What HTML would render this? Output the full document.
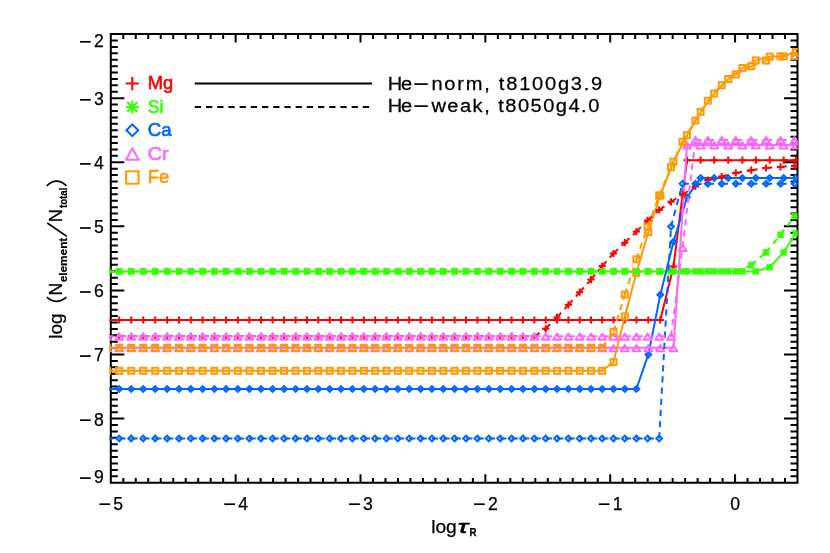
<!DOCTYPE html>
<html><head><meta charset="utf-8"><title>Abundance stratification</title>
<style>html,body{margin:0;padding:0;background:#fff}body{width:830px;height:553px;overflow:hidden;font-family:"Liberation Sans",sans-serif}</style></head>
<body>
<svg width="830" height="553" viewBox="0 0 830 553" style="display:block;will-change:transform;font-family:'Liberation Sans',sans-serif">
<style>text{stroke:#000;stroke-width:0.25px}</style>
<rect width="830" height="553" fill="#fff"/>
<defs><clipPath id="box"><rect x="109.5" y="34.1" width="688.3" height="448.59999999999997"/></clipPath></defs>
<path d="M110.8 34.1H797.5V482.7H110.8ZM110.80 482.7v-7.5M110.80 34.1v7.5M123.29 482.7v-3.8M123.29 34.1v3.8M135.77 482.7v-3.8M135.77 34.1v3.8M148.26 482.7v-3.8M148.26 34.1v3.8M160.74 482.7v-3.8M160.74 34.1v3.8M173.23 482.7v-3.8M173.23 34.1v3.8M185.71 482.7v-3.8M185.71 34.1v3.8M198.20 482.7v-3.8M198.20 34.1v3.8M210.68 482.7v-3.8M210.68 34.1v3.8M223.17 482.7v-3.8M223.17 34.1v3.8M235.65 482.7v-7.5M235.65 34.1v7.5M248.14 482.7v-3.8M248.14 34.1v3.8M260.63 482.7v-3.8M260.63 34.1v3.8M273.11 482.7v-3.8M273.11 34.1v3.8M285.60 482.7v-3.8M285.60 34.1v3.8M298.08 482.7v-3.8M298.08 34.1v3.8M310.57 482.7v-3.8M310.57 34.1v3.8M323.05 482.7v-3.8M323.05 34.1v3.8M335.54 482.7v-3.8M335.54 34.1v3.8M348.02 482.7v-3.8M348.02 34.1v3.8M360.51 482.7v-7.5M360.51 34.1v7.5M372.99 482.7v-3.8M372.99 34.1v3.8M385.48 482.7v-3.8M385.48 34.1v3.8M397.97 482.7v-3.8M397.97 34.1v3.8M410.45 482.7v-3.8M410.45 34.1v3.8M422.94 482.7v-3.8M422.94 34.1v3.8M435.42 482.7v-3.8M435.42 34.1v3.8M447.91 482.7v-3.8M447.91 34.1v3.8M460.39 482.7v-3.8M460.39 34.1v3.8M472.88 482.7v-3.8M472.88 34.1v3.8M485.36 482.7v-7.5M485.36 34.1v7.5M497.85 482.7v-3.8M497.85 34.1v3.8M510.33 482.7v-3.8M510.33 34.1v3.8M522.82 482.7v-3.8M522.82 34.1v3.8M535.31 482.7v-3.8M535.31 34.1v3.8M547.79 482.7v-3.8M547.79 34.1v3.8M560.28 482.7v-3.8M560.28 34.1v3.8M572.76 482.7v-3.8M572.76 34.1v3.8M585.25 482.7v-3.8M585.25 34.1v3.8M597.73 482.7v-3.8M597.73 34.1v3.8M610.22 482.7v-7.5M610.22 34.1v7.5M622.70 482.7v-3.8M622.70 34.1v3.8M635.19 482.7v-3.8M635.19 34.1v3.8M647.67 482.7v-3.8M647.67 34.1v3.8M660.16 482.7v-3.8M660.16 34.1v3.8M672.65 482.7v-3.8M672.65 34.1v3.8M685.13 482.7v-3.8M685.13 34.1v3.8M697.62 482.7v-3.8M697.62 34.1v3.8M710.10 482.7v-3.8M710.10 34.1v3.8M722.59 482.7v-3.8M722.59 34.1v3.8M735.07 482.7v-7.5M735.07 34.1v7.5M747.56 482.7v-3.8M747.56 34.1v3.8M760.04 482.7v-3.8M760.04 34.1v3.8M772.53 482.7v-3.8M772.53 34.1v3.8M785.01 482.7v-3.8M785.01 34.1v3.8M797.50 482.7v-3.8M797.50 34.1v3.8M110.8 34.10h12.5M797.5 34.10h-12.5M110.8 40.51h6.0M797.5 40.51h-6.0M110.8 46.92h6.0M797.5 46.92h-6.0M110.8 53.33h6.0M797.5 53.33h-6.0M110.8 59.73h6.0M797.5 59.73h-6.0M110.8 66.14h6.0M797.5 66.14h-6.0M110.8 72.55h6.0M797.5 72.55h-6.0M110.8 78.96h6.0M797.5 78.96h-6.0M110.8 85.37h6.0M797.5 85.37h-6.0M110.8 91.78h6.0M797.5 91.78h-6.0M110.8 98.19h12.5M797.5 98.19h-12.5M110.8 104.59h6.0M797.5 104.59h-6.0M110.8 111.00h6.0M797.5 111.00h-6.0M110.8 117.41h6.0M797.5 117.41h-6.0M110.8 123.82h6.0M797.5 123.82h-6.0M110.8 130.23h6.0M797.5 130.23h-6.0M110.8 136.64h6.0M797.5 136.64h-6.0M110.8 143.05h6.0M797.5 143.05h-6.0M110.8 149.45h6.0M797.5 149.45h-6.0M110.8 155.86h6.0M797.5 155.86h-6.0M110.8 162.27h12.5M797.5 162.27h-12.5M110.8 168.68h6.0M797.5 168.68h-6.0M110.8 175.09h6.0M797.5 175.09h-6.0M110.8 181.50h6.0M797.5 181.50h-6.0M110.8 187.91h6.0M797.5 187.91h-6.0M110.8 194.31h6.0M797.5 194.31h-6.0M110.8 200.72h6.0M797.5 200.72h-6.0M110.8 207.13h6.0M797.5 207.13h-6.0M110.8 213.54h6.0M797.5 213.54h-6.0M110.8 219.95h6.0M797.5 219.95h-6.0M110.8 226.36h12.5M797.5 226.36h-12.5M110.8 232.77h6.0M797.5 232.77h-6.0M110.8 239.17h6.0M797.5 239.17h-6.0M110.8 245.58h6.0M797.5 245.58h-6.0M110.8 251.99h6.0M797.5 251.99h-6.0M110.8 258.40h6.0M797.5 258.40h-6.0M110.8 264.81h6.0M797.5 264.81h-6.0M110.8 271.22h6.0M797.5 271.22h-6.0M110.8 277.63h6.0M797.5 277.63h-6.0M110.8 284.03h6.0M797.5 284.03h-6.0M110.8 290.44h12.5M797.5 290.44h-12.5M110.8 296.85h6.0M797.5 296.85h-6.0M110.8 303.26h6.0M797.5 303.26h-6.0M110.8 309.67h6.0M797.5 309.67h-6.0M110.8 316.08h6.0M797.5 316.08h-6.0M110.8 322.49h6.0M797.5 322.49h-6.0M110.8 328.89h6.0M797.5 328.89h-6.0M110.8 335.30h6.0M797.5 335.30h-6.0M110.8 341.71h6.0M797.5 341.71h-6.0M110.8 348.12h6.0M797.5 348.12h-6.0M110.8 354.53h12.5M797.5 354.53h-12.5M110.8 360.94h6.0M797.5 360.94h-6.0M110.8 367.35h6.0M797.5 367.35h-6.0M110.8 373.75h6.0M797.5 373.75h-6.0M110.8 380.16h6.0M797.5 380.16h-6.0M110.8 386.57h6.0M797.5 386.57h-6.0M110.8 392.98h6.0M797.5 392.98h-6.0M110.8 399.39h6.0M797.5 399.39h-6.0M110.8 405.80h6.0M797.5 405.80h-6.0M110.8 412.21h6.0M797.5 412.21h-6.0M110.8 418.61h12.5M797.5 418.61h-12.5M110.8 425.02h6.0M797.5 425.02h-6.0M110.8 431.43h6.0M797.5 431.43h-6.0M110.8 437.84h6.0M797.5 437.84h-6.0M110.8 444.25h6.0M797.5 444.25h-6.0M110.8 450.66h6.0M797.5 450.66h-6.0M110.8 457.07h6.0M797.5 457.07h-6.0M110.8 463.47h6.0M797.5 463.47h-6.0M110.8 469.88h6.0M797.5 469.88h-6.0M110.8 476.29h6.0M797.5 476.29h-6.0M110.8 482.70h12.5M797.5 482.70h-12.5" stroke="#000" stroke-width="2" fill="none" stroke-linecap="square" stroke-linejoin="miter"/>
<g clip-path="url(#box)">
<path d="M94.8 320.0L107.1 320.0L119.2 320.0L131.2 320.0L143.2 320.0L155.2 320.0L167.1 320.0L179.0 320.0L190.8 320.0L202.6 320.0L214.4 320.0L226.1 320.0L237.8 320.0L249.4 320.0L261.0 320.0L272.6 320.0L284.1 320.0L295.6 320.0L307.0 320.0L318.3 320.0L329.7 320.0L341.0 320.0L352.4 320.0L363.8 320.0L375.1 320.0L386.5 320.0L397.8 320.0L409.2 320.0L420.6 320.0L431.9 320.0L443.3 320.0L454.6 320.0L466.0 320.0L477.4 320.0L488.8 320.0L500.2 320.0L511.6 320.0L523.0 320.0L534.4 320.0L545.7 320.0L557.0 320.0L568.4 320.0L579.7 320.0L591.0 320.0L602.2 320.0L613.5 320.0L624.8 320.0L636.4 320.0L648.3 320.0L660.3 320.0L673.5 266.5L687.0 160.2L700.6 160.2L714.2 160.2L728.2 160.2L742.4 160.2L755.8 160.2L769.7 160.2L783.7 160.2L795.8 160.2" stroke="#ff0000" stroke-width="2" fill="none" stroke-linejoin="round"/>
<path d="M103.5 320.0H110.7M107.1 316.4V323.6" stroke="#ff0000" stroke-width="2" fill="none"/>
<path d="M115.6 320.0H122.8M119.2 316.4V323.6" stroke="#ff0000" stroke-width="2" fill="none"/>
<path d="M127.6 320.0H134.8M131.2 316.4V323.6" stroke="#ff0000" stroke-width="2" fill="none"/>
<path d="M139.6 320.0H146.8M143.2 316.4V323.6" stroke="#ff0000" stroke-width="2" fill="none"/>
<path d="M151.6 320.0H158.8M155.2 316.4V323.6" stroke="#ff0000" stroke-width="2" fill="none"/>
<path d="M163.5 320.0H170.7M167.1 316.4V323.6" stroke="#ff0000" stroke-width="2" fill="none"/>
<path d="M175.4 320.0H182.6M179.0 316.4V323.6" stroke="#ff0000" stroke-width="2" fill="none"/>
<path d="M187.2 320.0H194.4M190.8 316.4V323.6" stroke="#ff0000" stroke-width="2" fill="none"/>
<path d="M199.0 320.0H206.2M202.6 316.4V323.6" stroke="#ff0000" stroke-width="2" fill="none"/>
<path d="M210.8 320.0H218.0M214.4 316.4V323.6" stroke="#ff0000" stroke-width="2" fill="none"/>
<path d="M222.5 320.0H229.7M226.1 316.4V323.6" stroke="#ff0000" stroke-width="2" fill="none"/>
<path d="M234.2 320.0H241.4M237.8 316.4V323.6" stroke="#ff0000" stroke-width="2" fill="none"/>
<path d="M245.8 320.0H253.0M249.4 316.4V323.6" stroke="#ff0000" stroke-width="2" fill="none"/>
<path d="M257.4 320.0H264.6M261.0 316.4V323.6" stroke="#ff0000" stroke-width="2" fill="none"/>
<path d="M269.0 320.0H276.2M272.6 316.4V323.6" stroke="#ff0000" stroke-width="2" fill="none"/>
<path d="M280.5 320.0H287.7M284.1 316.4V323.6" stroke="#ff0000" stroke-width="2" fill="none"/>
<path d="M292.0 320.0H299.2M295.6 316.4V323.6" stroke="#ff0000" stroke-width="2" fill="none"/>
<path d="M303.4 320.0H310.6M307.0 316.4V323.6" stroke="#ff0000" stroke-width="2" fill="none"/>
<path d="M314.7 320.0H321.9M318.3 316.4V323.6" stroke="#ff0000" stroke-width="2" fill="none"/>
<path d="M326.1 320.0H333.3M329.7 316.4V323.6" stroke="#ff0000" stroke-width="2" fill="none"/>
<path d="M337.4 320.0H344.6M341.0 316.4V323.6" stroke="#ff0000" stroke-width="2" fill="none"/>
<path d="M348.8 320.0H356.0M352.4 316.4V323.6" stroke="#ff0000" stroke-width="2" fill="none"/>
<path d="M360.2 320.0H367.4M363.8 316.4V323.6" stroke="#ff0000" stroke-width="2" fill="none"/>
<path d="M371.5 320.0H378.7M375.1 316.4V323.6" stroke="#ff0000" stroke-width="2" fill="none"/>
<path d="M382.9 320.0H390.1M386.5 316.4V323.6" stroke="#ff0000" stroke-width="2" fill="none"/>
<path d="M394.2 320.0H401.4M397.8 316.4V323.6" stroke="#ff0000" stroke-width="2" fill="none"/>
<path d="M405.6 320.0H412.8M409.2 316.4V323.6" stroke="#ff0000" stroke-width="2" fill="none"/>
<path d="M417.0 320.0H424.2M420.6 316.4V323.6" stroke="#ff0000" stroke-width="2" fill="none"/>
<path d="M428.3 320.0H435.5M431.9 316.4V323.6" stroke="#ff0000" stroke-width="2" fill="none"/>
<path d="M439.7 320.0H446.9M443.3 316.4V323.6" stroke="#ff0000" stroke-width="2" fill="none"/>
<path d="M451.0 320.0H458.2M454.6 316.4V323.6" stroke="#ff0000" stroke-width="2" fill="none"/>
<path d="M462.4 320.0H469.6M466.0 316.4V323.6" stroke="#ff0000" stroke-width="2" fill="none"/>
<path d="M473.8 320.0H481.0M477.4 316.4V323.6" stroke="#ff0000" stroke-width="2" fill="none"/>
<path d="M485.2 320.0H492.4M488.8 316.4V323.6" stroke="#ff0000" stroke-width="2" fill="none"/>
<path d="M496.6 320.0H503.8M500.2 316.4V323.6" stroke="#ff0000" stroke-width="2" fill="none"/>
<path d="M508.0 320.0H515.2M511.6 316.4V323.6" stroke="#ff0000" stroke-width="2" fill="none"/>
<path d="M519.4 320.0H526.6M523.0 316.4V323.6" stroke="#ff0000" stroke-width="2" fill="none"/>
<path d="M530.8 320.0H538.0M534.4 316.4V323.6" stroke="#ff0000" stroke-width="2" fill="none"/>
<path d="M542.1 320.0H549.3M545.7 316.4V323.6" stroke="#ff0000" stroke-width="2" fill="none"/>
<path d="M553.4 320.0H560.6M557.0 316.4V323.6" stroke="#ff0000" stroke-width="2" fill="none"/>
<path d="M564.8 320.0H572.0M568.4 316.4V323.6" stroke="#ff0000" stroke-width="2" fill="none"/>
<path d="M576.1 320.0H583.3M579.7 316.4V323.6" stroke="#ff0000" stroke-width="2" fill="none"/>
<path d="M587.4 320.0H594.6M591.0 316.4V323.6" stroke="#ff0000" stroke-width="2" fill="none"/>
<path d="M598.6 320.0H605.8M602.2 316.4V323.6" stroke="#ff0000" stroke-width="2" fill="none"/>
<path d="M609.9 320.0H617.1M613.5 316.4V323.6" stroke="#ff0000" stroke-width="2" fill="none"/>
<path d="M621.2 320.0H628.4M624.8 316.4V323.6" stroke="#ff0000" stroke-width="2" fill="none"/>
<path d="M632.8 320.0H640.0M636.4 316.4V323.6" stroke="#ff0000" stroke-width="2" fill="none"/>
<path d="M644.7 320.0H651.9M648.3 316.4V323.6" stroke="#ff0000" stroke-width="2" fill="none"/>
<path d="M656.7 320.0H663.9M660.3 316.4V323.6" stroke="#ff0000" stroke-width="2" fill="none"/>
<path d="M669.9 266.5H677.1M673.5 262.9V270.1" stroke="#ff0000" stroke-width="2" fill="none"/>
<path d="M683.4 160.2H690.6M687.0 156.6V163.8" stroke="#ff0000" stroke-width="2" fill="none"/>
<path d="M697.0 160.2H704.2M700.6 156.6V163.8" stroke="#ff0000" stroke-width="2" fill="none"/>
<path d="M710.6 160.2H717.8M714.2 156.6V163.8" stroke="#ff0000" stroke-width="2" fill="none"/>
<path d="M724.6 160.2H731.8M728.2 156.6V163.8" stroke="#ff0000" stroke-width="2" fill="none"/>
<path d="M738.8 160.2H746.0M742.4 156.6V163.8" stroke="#ff0000" stroke-width="2" fill="none"/>
<path d="M752.2 160.2H759.4M755.8 156.6V163.8" stroke="#ff0000" stroke-width="2" fill="none"/>
<path d="M766.1 160.2H773.3M769.7 156.6V163.8" stroke="#ff0000" stroke-width="2" fill="none"/>
<path d="M780.1 160.2H787.3M783.7 156.6V163.8" stroke="#ff0000" stroke-width="2" fill="none"/>
<path d="M792.2 160.2H799.4M795.8 156.6V163.8" stroke="#ff0000" stroke-width="2" fill="none"/>
<path d="M94.8 271.4L107.1 271.4L119.2 271.4L131.2 271.4L143.2 271.4L155.2 271.4L167.1 271.4L179.0 271.4L190.8 271.4L202.6 271.4L214.4 271.4L226.1 271.4L237.8 271.4L249.4 271.4L261.0 271.4L272.6 271.4L284.1 271.4L295.6 271.4L307.0 271.4L318.3 271.4L329.7 271.4L341.0 271.4L352.4 271.4L363.8 271.4L375.1 271.4L386.5 271.4L397.8 271.4L409.2 271.4L420.6 271.4L431.9 271.4L443.3 271.4L454.6 271.4L466.0 271.4L477.4 271.4L488.8 271.4L500.2 271.4L511.6 271.4L523.0 271.4L534.4 271.4L545.7 271.4L557.0 271.4L568.4 271.4L579.7 271.4L591.0 271.4L602.2 271.4L613.5 271.4L624.8 271.4L636.4 271.4L648.3 271.4L660.3 271.4L673.5 271.4L687.0 271.4L700.6 271.4L714.2 271.4L728.2 271.4L742.4 271.4L755.8 271.4L769.7 267.2L783.7 252.4L795.8 233.3" stroke="#33ff00" stroke-width="2" fill="none" stroke-linejoin="round"/>
<path d="M103.8 271.4H110.4M107.1 268.1V274.7M104.1 268.4L110.1 274.4M104.1 274.4L110.1 268.4" stroke="#33ff00" stroke-width="2" fill="none"/>
<path d="M115.9 271.4H122.5M119.2 268.1V274.7M116.2 268.4L122.2 274.4M116.2 274.4L122.2 268.4" stroke="#33ff00" stroke-width="2" fill="none"/>
<path d="M127.9 271.4H134.5M131.2 268.1V274.7M128.2 268.4L134.3 274.4M128.2 274.4L134.3 268.4" stroke="#33ff00" stroke-width="2" fill="none"/>
<path d="M139.9 271.4H146.5M143.2 268.1V274.7M140.2 268.4L146.3 274.4M140.2 274.4L146.3 268.4" stroke="#33ff00" stroke-width="2" fill="none"/>
<path d="M151.9 271.4H158.5M155.2 268.1V274.7M152.2 268.4L158.2 274.4M152.2 274.4L158.2 268.4" stroke="#33ff00" stroke-width="2" fill="none"/>
<path d="M163.8 271.4H170.4M167.1 268.1V274.7M164.1 268.4L170.2 274.4M164.1 274.4L170.2 268.4" stroke="#33ff00" stroke-width="2" fill="none"/>
<path d="M175.7 271.4H182.3M179.0 268.1V274.7M176.0 268.4L182.0 274.4M176.0 274.4L182.0 268.4" stroke="#33ff00" stroke-width="2" fill="none"/>
<path d="M187.5 271.4H194.1M190.8 268.1V274.7M187.8 268.4L193.9 274.4M187.8 274.4L193.9 268.4" stroke="#33ff00" stroke-width="2" fill="none"/>
<path d="M199.3 271.4H205.9M202.6 268.1V274.7M199.6 268.4L205.7 274.4M199.6 274.4L205.7 268.4" stroke="#33ff00" stroke-width="2" fill="none"/>
<path d="M211.1 271.4H217.7M214.4 268.1V274.7M211.4 268.4L217.4 274.4M211.4 274.4L217.4 268.4" stroke="#33ff00" stroke-width="2" fill="none"/>
<path d="M222.8 271.4H229.4M226.1 268.1V274.7M223.1 268.4L229.2 274.4M223.1 274.4L229.2 268.4" stroke="#33ff00" stroke-width="2" fill="none"/>
<path d="M234.5 271.4H241.1M237.8 268.1V274.7M234.8 268.4L240.8 274.4M234.8 274.4L240.8 268.4" stroke="#33ff00" stroke-width="2" fill="none"/>
<path d="M246.1 271.4H252.7M249.4 268.1V274.7M246.4 268.4L252.5 274.4M246.4 274.4L252.5 268.4" stroke="#33ff00" stroke-width="2" fill="none"/>
<path d="M257.7 271.4H264.3M261.0 268.1V274.7M258.0 268.4L264.1 274.4M258.0 274.4L264.1 268.4" stroke="#33ff00" stroke-width="2" fill="none"/>
<path d="M269.3 271.4H275.9M272.6 268.1V274.7M269.6 268.4L275.6 274.4M269.6 274.4L275.6 268.4" stroke="#33ff00" stroke-width="2" fill="none"/>
<path d="M280.8 271.4H287.4M284.1 268.1V274.7M281.1 268.4L287.2 274.4M281.1 274.4L287.2 268.4" stroke="#33ff00" stroke-width="2" fill="none"/>
<path d="M292.3 271.4H298.9M295.6 268.1V274.7M292.6 268.4L298.6 274.4M292.6 274.4L298.6 268.4" stroke="#33ff00" stroke-width="2" fill="none"/>
<path d="M303.7 271.4H310.3M307.0 268.1V274.7M303.9 268.4L310.0 274.4M303.9 274.4L310.0 268.4" stroke="#33ff00" stroke-width="2" fill="none"/>
<path d="M315.0 271.4H321.6M318.3 268.1V274.7M315.3 268.4L321.4 274.4M315.3 274.4L321.4 268.4" stroke="#33ff00" stroke-width="2" fill="none"/>
<path d="M326.4 271.4H333.0M329.7 268.1V274.7M326.6 268.4L332.7 274.4M326.6 274.4L332.7 268.4" stroke="#33ff00" stroke-width="2" fill="none"/>
<path d="M337.7 271.4H344.3M341.0 268.1V274.7M338.0 268.4L344.1 274.4M338.0 274.4L344.1 268.4" stroke="#33ff00" stroke-width="2" fill="none"/>
<path d="M349.1 271.4H355.7M352.4 268.1V274.7M349.4 268.4L355.4 274.4M349.4 274.4L355.4 268.4" stroke="#33ff00" stroke-width="2" fill="none"/>
<path d="M360.5 271.4H367.1M363.8 268.1V274.7M360.7 268.4L366.8 274.4M360.7 274.4L366.8 268.4" stroke="#33ff00" stroke-width="2" fill="none"/>
<path d="M371.8 271.4H378.4M375.1 268.1V274.7M372.1 268.4L378.2 274.4M372.1 274.4L378.2 268.4" stroke="#33ff00" stroke-width="2" fill="none"/>
<path d="M383.2 271.4H389.8M386.5 268.1V274.7M383.4 268.4L389.5 274.4M383.4 274.4L389.5 268.4" stroke="#33ff00" stroke-width="2" fill="none"/>
<path d="M394.5 271.4H401.1M397.8 268.1V274.7M394.8 268.4L400.9 274.4M394.8 274.4L400.9 268.4" stroke="#33ff00" stroke-width="2" fill="none"/>
<path d="M405.9 271.4H412.5M409.2 268.1V274.7M406.2 268.4L412.2 274.4M406.2 274.4L412.2 268.4" stroke="#33ff00" stroke-width="2" fill="none"/>
<path d="M417.3 271.4H423.9M420.6 268.1V274.7M417.5 268.4L423.6 274.4M417.5 274.4L423.6 268.4" stroke="#33ff00" stroke-width="2" fill="none"/>
<path d="M428.6 271.4H435.2M431.9 268.1V274.7M428.9 268.4L435.0 274.4M428.9 274.4L435.0 268.4" stroke="#33ff00" stroke-width="2" fill="none"/>
<path d="M440.0 271.4H446.6M443.3 268.1V274.7M440.2 268.4L446.3 274.4M440.2 274.4L446.3 268.4" stroke="#33ff00" stroke-width="2" fill="none"/>
<path d="M451.3 271.4H457.9M454.6 268.1V274.7M451.6 268.4L457.7 274.4M451.6 274.4L457.7 268.4" stroke="#33ff00" stroke-width="2" fill="none"/>
<path d="M462.7 271.4H469.3M466.0 268.1V274.7M463.0 268.4L469.0 274.4M463.0 274.4L469.0 268.4" stroke="#33ff00" stroke-width="2" fill="none"/>
<path d="M474.1 271.4H480.7M477.4 268.1V274.7M474.3 268.4L480.4 274.4M474.3 274.4L480.4 268.4" stroke="#33ff00" stroke-width="2" fill="none"/>
<path d="M485.5 271.4H492.1M488.8 268.1V274.7M485.7 268.4L491.8 274.4M485.7 274.4L491.8 268.4" stroke="#33ff00" stroke-width="2" fill="none"/>
<path d="M496.9 271.4H503.5M500.2 268.1V274.7M497.1 268.4L503.2 274.4M497.1 274.4L503.2 268.4" stroke="#33ff00" stroke-width="2" fill="none"/>
<path d="M508.3 271.4H514.9M511.6 268.1V274.7M508.5 268.4L514.6 274.4M508.5 274.4L514.6 268.4" stroke="#33ff00" stroke-width="2" fill="none"/>
<path d="M519.7 271.4H526.3M523.0 268.1V274.7M519.9 268.4L526.0 274.4M519.9 274.4L526.0 268.4" stroke="#33ff00" stroke-width="2" fill="none"/>
<path d="M531.1 271.4H537.7M534.4 268.1V274.7M531.3 268.4L537.4 274.4M531.3 274.4L537.4 268.4" stroke="#33ff00" stroke-width="2" fill="none"/>
<path d="M542.4 271.4H549.0M545.7 268.1V274.7M542.7 268.4L548.7 274.4M542.7 274.4L548.7 268.4" stroke="#33ff00" stroke-width="2" fill="none"/>
<path d="M553.7 271.4H560.3M557.0 268.1V274.7M554.0 268.4L560.0 274.4M554.0 274.4L560.0 268.4" stroke="#33ff00" stroke-width="2" fill="none"/>
<path d="M565.1 271.4H571.7M568.4 268.1V274.7M565.4 268.4L571.4 274.4M565.4 274.4L571.4 268.4" stroke="#33ff00" stroke-width="2" fill="none"/>
<path d="M576.4 271.4H583.0M579.7 268.1V274.7M576.7 268.4L582.7 274.4M576.7 274.4L582.7 268.4" stroke="#33ff00" stroke-width="2" fill="none"/>
<path d="M587.7 271.4H594.3M591.0 268.1V274.7M588.0 268.4L594.0 274.4M588.0 274.4L594.0 268.4" stroke="#33ff00" stroke-width="2" fill="none"/>
<path d="M598.9 271.4H605.5M602.2 268.1V274.7M599.2 268.4L605.2 274.4M599.2 274.4L605.2 268.4" stroke="#33ff00" stroke-width="2" fill="none"/>
<path d="M610.2 271.4H616.8M613.5 268.1V274.7M610.5 268.4L616.5 274.4M610.5 274.4L616.5 268.4" stroke="#33ff00" stroke-width="2" fill="none"/>
<path d="M621.5 271.4H628.1M624.8 268.1V274.7M621.8 268.4L627.8 274.4M621.8 274.4L627.8 268.4" stroke="#33ff00" stroke-width="2" fill="none"/>
<path d="M633.1 271.4H639.7M636.4 268.1V274.7M633.4 268.4L639.4 274.4M633.4 274.4L639.4 268.4" stroke="#33ff00" stroke-width="2" fill="none"/>
<path d="M645.0 271.4H651.6M648.3 268.1V274.7M645.3 268.4L651.3 274.4M645.3 274.4L651.3 268.4" stroke="#33ff00" stroke-width="2" fill="none"/>
<path d="M657.0 271.4H663.6M660.3 268.1V274.7M657.3 268.4L663.3 274.4M657.3 274.4L663.3 268.4" stroke="#33ff00" stroke-width="2" fill="none"/>
<path d="M670.2 271.4H676.8M673.5 268.1V274.7M670.5 268.4L676.5 274.4M670.5 274.4L676.5 268.4" stroke="#33ff00" stroke-width="2" fill="none"/>
<path d="M683.7 271.4H690.3M687.0 268.1V274.7M684.0 268.4L690.0 274.4M684.0 274.4L690.0 268.4" stroke="#33ff00" stroke-width="2" fill="none"/>
<path d="M697.3 271.4H703.9M700.6 268.1V274.7M697.6 268.4L703.6 274.4M697.6 274.4L703.6 268.4" stroke="#33ff00" stroke-width="2" fill="none"/>
<path d="M710.9 271.4H717.5M714.2 268.1V274.7M711.2 268.4L717.2 274.4M711.2 274.4L717.2 268.4" stroke="#33ff00" stroke-width="2" fill="none"/>
<path d="M724.9 271.4H731.5M728.2 268.1V274.7M725.2 268.4L731.2 274.4M725.2 274.4L731.2 268.4" stroke="#33ff00" stroke-width="2" fill="none"/>
<path d="M739.1 271.4H745.7M742.4 268.1V274.7M739.4 268.4L745.4 274.4M739.4 274.4L745.4 268.4" stroke="#33ff00" stroke-width="2" fill="none"/>
<path d="M752.5 271.4H759.1M755.8 268.1V274.7M752.8 268.4L758.8 274.4M752.8 274.4L758.8 268.4" stroke="#33ff00" stroke-width="2" fill="none"/>
<path d="M766.4 267.2H773.0M769.7 263.9V270.5M766.7 264.2L772.7 270.2M766.7 270.2L772.7 264.2" stroke="#33ff00" stroke-width="2" fill="none"/>
<path d="M780.4 252.4H787.0M783.7 249.1V255.7M780.7 249.4L786.7 255.4M780.7 255.4L786.7 249.4" stroke="#33ff00" stroke-width="2" fill="none"/>
<path d="M792.5 233.3H799.1M795.8 230.0V236.6M792.8 230.3L798.8 236.3M792.8 236.3L798.8 230.3" stroke="#33ff00" stroke-width="2" fill="none"/>
<path d="M94.8 389.0L107.1 389.0L119.2 389.0L131.2 389.0L143.2 389.0L155.2 389.0L167.1 389.0L179.0 389.0L190.8 389.0L202.6 389.0L214.4 389.0L226.1 389.0L237.8 389.0L249.4 389.0L261.0 389.0L272.6 389.0L284.1 389.0L295.6 389.0L307.0 389.0L318.3 389.0L329.7 389.0L341.0 389.0L352.4 389.0L363.8 389.0L375.1 389.0L386.5 389.0L397.8 389.0L409.2 389.0L420.6 389.0L431.9 389.0L443.3 389.0L454.6 389.0L466.0 389.0L477.4 389.0L488.8 389.0L500.2 389.0L511.6 389.0L523.0 389.0L534.4 389.0L545.7 389.0L557.0 389.0L568.4 389.0L579.7 389.0L591.0 389.0L602.2 389.0L613.5 389.0L624.8 389.0L636.4 389.0L648.3 354.6L660.3 294.8L673.5 241.8L687.0 197.3L700.6 178.0L714.2 178.0L728.2 178.0L742.4 178.0L755.8 178.0L769.7 178.0L783.7 178.0L795.8 178.0" stroke="#0066ff" stroke-width="2" fill="none" stroke-linejoin="round"/>
<path d="M104.2 389.0L107.1 386.1L110.0 389.0L107.1 391.9Z" stroke="#0066ff" stroke-width="2" fill="none" stroke-linejoin="miter"/>
<path d="M116.3 389.0L119.2 386.1L122.1 389.0L119.2 391.9Z" stroke="#0066ff" stroke-width="2" fill="none" stroke-linejoin="miter"/>
<path d="M128.3 389.0L131.2 386.1L134.1 389.0L131.2 391.9Z" stroke="#0066ff" stroke-width="2" fill="none" stroke-linejoin="miter"/>
<path d="M140.3 389.0L143.2 386.1L146.1 389.0L143.2 391.9Z" stroke="#0066ff" stroke-width="2" fill="none" stroke-linejoin="miter"/>
<path d="M152.3 389.0L155.2 386.1L158.1 389.0L155.2 391.9Z" stroke="#0066ff" stroke-width="2" fill="none" stroke-linejoin="miter"/>
<path d="M164.2 389.0L167.1 386.1L170.0 389.0L167.1 391.9Z" stroke="#0066ff" stroke-width="2" fill="none" stroke-linejoin="miter"/>
<path d="M176.1 389.0L179.0 386.1L181.9 389.0L179.0 391.9Z" stroke="#0066ff" stroke-width="2" fill="none" stroke-linejoin="miter"/>
<path d="M187.9 389.0L190.8 386.1L193.7 389.0L190.8 391.9Z" stroke="#0066ff" stroke-width="2" fill="none" stroke-linejoin="miter"/>
<path d="M199.7 389.0L202.6 386.1L205.5 389.0L202.6 391.9Z" stroke="#0066ff" stroke-width="2" fill="none" stroke-linejoin="miter"/>
<path d="M211.5 389.0L214.4 386.1L217.3 389.0L214.4 391.9Z" stroke="#0066ff" stroke-width="2" fill="none" stroke-linejoin="miter"/>
<path d="M223.2 389.0L226.1 386.1L229.0 389.0L226.1 391.9Z" stroke="#0066ff" stroke-width="2" fill="none" stroke-linejoin="miter"/>
<path d="M234.9 389.0L237.8 386.1L240.7 389.0L237.8 391.9Z" stroke="#0066ff" stroke-width="2" fill="none" stroke-linejoin="miter"/>
<path d="M246.5 389.0L249.4 386.1L252.3 389.0L249.4 391.9Z" stroke="#0066ff" stroke-width="2" fill="none" stroke-linejoin="miter"/>
<path d="M258.1 389.0L261.0 386.1L263.9 389.0L261.0 391.9Z" stroke="#0066ff" stroke-width="2" fill="none" stroke-linejoin="miter"/>
<path d="M269.7 389.0L272.6 386.1L275.5 389.0L272.6 391.9Z" stroke="#0066ff" stroke-width="2" fill="none" stroke-linejoin="miter"/>
<path d="M281.2 389.0L284.1 386.1L287.0 389.0L284.1 391.9Z" stroke="#0066ff" stroke-width="2" fill="none" stroke-linejoin="miter"/>
<path d="M292.7 389.0L295.6 386.1L298.5 389.0L295.6 391.9Z" stroke="#0066ff" stroke-width="2" fill="none" stroke-linejoin="miter"/>
<path d="M304.1 389.0L307.0 386.1L309.9 389.0L307.0 391.9Z" stroke="#0066ff" stroke-width="2" fill="none" stroke-linejoin="miter"/>
<path d="M315.4 389.0L318.3 386.1L321.2 389.0L318.3 391.9Z" stroke="#0066ff" stroke-width="2" fill="none" stroke-linejoin="miter"/>
<path d="M326.8 389.0L329.7 386.1L332.6 389.0L329.7 391.9Z" stroke="#0066ff" stroke-width="2" fill="none" stroke-linejoin="miter"/>
<path d="M338.1 389.0L341.0 386.1L343.9 389.0L341.0 391.9Z" stroke="#0066ff" stroke-width="2" fill="none" stroke-linejoin="miter"/>
<path d="M349.5 389.0L352.4 386.1L355.3 389.0L352.4 391.9Z" stroke="#0066ff" stroke-width="2" fill="none" stroke-linejoin="miter"/>
<path d="M360.9 389.0L363.8 386.1L366.7 389.0L363.8 391.9Z" stroke="#0066ff" stroke-width="2" fill="none" stroke-linejoin="miter"/>
<path d="M372.2 389.0L375.1 386.1L378.0 389.0L375.1 391.9Z" stroke="#0066ff" stroke-width="2" fill="none" stroke-linejoin="miter"/>
<path d="M383.6 389.0L386.5 386.1L389.4 389.0L386.5 391.9Z" stroke="#0066ff" stroke-width="2" fill="none" stroke-linejoin="miter"/>
<path d="M394.9 389.0L397.8 386.1L400.7 389.0L397.8 391.9Z" stroke="#0066ff" stroke-width="2" fill="none" stroke-linejoin="miter"/>
<path d="M406.3 389.0L409.2 386.1L412.1 389.0L409.2 391.9Z" stroke="#0066ff" stroke-width="2" fill="none" stroke-linejoin="miter"/>
<path d="M417.7 389.0L420.6 386.1L423.5 389.0L420.6 391.9Z" stroke="#0066ff" stroke-width="2" fill="none" stroke-linejoin="miter"/>
<path d="M429.0 389.0L431.9 386.1L434.8 389.0L431.9 391.9Z" stroke="#0066ff" stroke-width="2" fill="none" stroke-linejoin="miter"/>
<path d="M440.4 389.0L443.3 386.1L446.2 389.0L443.3 391.9Z" stroke="#0066ff" stroke-width="2" fill="none" stroke-linejoin="miter"/>
<path d="M451.7 389.0L454.6 386.1L457.5 389.0L454.6 391.9Z" stroke="#0066ff" stroke-width="2" fill="none" stroke-linejoin="miter"/>
<path d="M463.1 389.0L466.0 386.1L468.9 389.0L466.0 391.9Z" stroke="#0066ff" stroke-width="2" fill="none" stroke-linejoin="miter"/>
<path d="M474.5 389.0L477.4 386.1L480.3 389.0L477.4 391.9Z" stroke="#0066ff" stroke-width="2" fill="none" stroke-linejoin="miter"/>
<path d="M485.9 389.0L488.8 386.1L491.7 389.0L488.8 391.9Z" stroke="#0066ff" stroke-width="2" fill="none" stroke-linejoin="miter"/>
<path d="M497.3 389.0L500.2 386.1L503.1 389.0L500.2 391.9Z" stroke="#0066ff" stroke-width="2" fill="none" stroke-linejoin="miter"/>
<path d="M508.7 389.0L511.6 386.1L514.5 389.0L511.6 391.9Z" stroke="#0066ff" stroke-width="2" fill="none" stroke-linejoin="miter"/>
<path d="M520.1 389.0L523.0 386.1L525.9 389.0L523.0 391.9Z" stroke="#0066ff" stroke-width="2" fill="none" stroke-linejoin="miter"/>
<path d="M531.5 389.0L534.4 386.1L537.3 389.0L534.4 391.9Z" stroke="#0066ff" stroke-width="2" fill="none" stroke-linejoin="miter"/>
<path d="M542.8 389.0L545.7 386.1L548.6 389.0L545.7 391.9Z" stroke="#0066ff" stroke-width="2" fill="none" stroke-linejoin="miter"/>
<path d="M554.1 389.0L557.0 386.1L559.9 389.0L557.0 391.9Z" stroke="#0066ff" stroke-width="2" fill="none" stroke-linejoin="miter"/>
<path d="M565.5 389.0L568.4 386.1L571.3 389.0L568.4 391.9Z" stroke="#0066ff" stroke-width="2" fill="none" stroke-linejoin="miter"/>
<path d="M576.8 389.0L579.7 386.1L582.6 389.0L579.7 391.9Z" stroke="#0066ff" stroke-width="2" fill="none" stroke-linejoin="miter"/>
<path d="M588.1 389.0L591.0 386.1L593.9 389.0L591.0 391.9Z" stroke="#0066ff" stroke-width="2" fill="none" stroke-linejoin="miter"/>
<path d="M599.3 389.0L602.2 386.1L605.1 389.0L602.2 391.9Z" stroke="#0066ff" stroke-width="2" fill="none" stroke-linejoin="miter"/>
<path d="M610.6 389.0L613.5 386.1L616.4 389.0L613.5 391.9Z" stroke="#0066ff" stroke-width="2" fill="none" stroke-linejoin="miter"/>
<path d="M621.9 389.0L624.8 386.1L627.7 389.0L624.8 391.9Z" stroke="#0066ff" stroke-width="2" fill="none" stroke-linejoin="miter"/>
<path d="M633.5 389.0L636.4 386.1L639.3 389.0L636.4 391.9Z" stroke="#0066ff" stroke-width="2" fill="none" stroke-linejoin="miter"/>
<path d="M645.4 354.6L648.3 351.7L651.2 354.6L648.3 357.5Z" stroke="#0066ff" stroke-width="2" fill="none" stroke-linejoin="miter"/>
<path d="M657.4 294.8L660.3 291.9L663.2 294.8L660.3 297.7Z" stroke="#0066ff" stroke-width="2" fill="none" stroke-linejoin="miter"/>
<path d="M670.6 241.8L673.5 238.9L676.4 241.8L673.5 244.7Z" stroke="#0066ff" stroke-width="2" fill="none" stroke-linejoin="miter"/>
<path d="M684.1 197.3L687.0 194.4L689.9 197.3L687.0 200.2Z" stroke="#0066ff" stroke-width="2" fill="none" stroke-linejoin="miter"/>
<path d="M697.7 178.0L700.6 175.1L703.5 178.0L700.6 180.9Z" stroke="#0066ff" stroke-width="2" fill="none" stroke-linejoin="miter"/>
<path d="M711.3 178.0L714.2 175.1L717.1 178.0L714.2 180.9Z" stroke="#0066ff" stroke-width="2" fill="none" stroke-linejoin="miter"/>
<path d="M725.3 178.0L728.2 175.1L731.1 178.0L728.2 180.9Z" stroke="#0066ff" stroke-width="2" fill="none" stroke-linejoin="miter"/>
<path d="M739.5 178.0L742.4 175.1L745.3 178.0L742.4 180.9Z" stroke="#0066ff" stroke-width="2" fill="none" stroke-linejoin="miter"/>
<path d="M752.9 178.0L755.8 175.1L758.7 178.0L755.8 180.9Z" stroke="#0066ff" stroke-width="2" fill="none" stroke-linejoin="miter"/>
<path d="M766.8 178.0L769.7 175.1L772.6 178.0L769.7 180.9Z" stroke="#0066ff" stroke-width="2" fill="none" stroke-linejoin="miter"/>
<path d="M780.8 178.0L783.7 175.1L786.6 178.0L783.7 180.9Z" stroke="#0066ff" stroke-width="2" fill="none" stroke-linejoin="miter"/>
<path d="M792.9 178.0L795.8 175.1L798.7 178.0L795.8 180.9Z" stroke="#0066ff" stroke-width="2" fill="none" stroke-linejoin="miter"/>
<path d="M94.8 347.8L107.1 347.8L119.2 347.8L131.2 347.8L143.2 347.8L155.2 347.8L167.1 347.8L179.0 347.8L190.8 347.8L202.6 347.8L214.4 347.8L226.1 347.8L237.8 347.8L249.4 347.8L261.0 347.8L272.6 347.8L284.1 347.8L295.6 347.8L307.0 347.8L318.3 347.8L329.7 347.8L341.0 347.8L352.4 347.8L363.8 347.8L375.1 347.8L386.5 347.8L397.8 347.8L409.2 347.8L420.6 347.8L431.9 347.8L443.3 347.8L454.6 347.8L466.0 347.8L477.4 347.8L488.8 347.8L500.2 347.8L511.6 347.8L523.0 347.8L534.4 347.8L545.7 347.8L557.0 347.8L568.4 347.8L579.7 347.8L591.0 347.8L602.2 347.8L613.5 347.8L624.8 347.8L636.4 347.8L648.3 347.8L660.3 347.8L673.5 347.8L687.0 145.0L700.6 145.0L714.2 145.0L728.2 145.0L742.4 145.0L755.8 145.0L769.7 145.0L783.7 145.0L795.8 145.0" stroke="#ff66ff" stroke-width="2" fill="none" stroke-linejoin="round"/>
<path d="M103.1 351.2L107.1 345.0L111.1 351.2Z" stroke="#ff66ff" stroke-width="2" fill="none" stroke-linejoin="round"/>
<path d="M115.2 351.2L119.2 345.0L123.2 351.2Z" stroke="#ff66ff" stroke-width="2" fill="none" stroke-linejoin="round"/>
<path d="M127.2 351.2L131.2 345.0L135.2 351.2Z" stroke="#ff66ff" stroke-width="2" fill="none" stroke-linejoin="round"/>
<path d="M139.2 351.2L143.2 345.0L147.2 351.2Z" stroke="#ff66ff" stroke-width="2" fill="none" stroke-linejoin="round"/>
<path d="M151.2 351.2L155.2 345.0L159.2 351.2Z" stroke="#ff66ff" stroke-width="2" fill="none" stroke-linejoin="round"/>
<path d="M163.1 351.2L167.1 345.0L171.1 351.2Z" stroke="#ff66ff" stroke-width="2" fill="none" stroke-linejoin="round"/>
<path d="M175.0 351.2L179.0 345.0L183.0 351.2Z" stroke="#ff66ff" stroke-width="2" fill="none" stroke-linejoin="round"/>
<path d="M186.8 351.2L190.8 345.0L194.8 351.2Z" stroke="#ff66ff" stroke-width="2" fill="none" stroke-linejoin="round"/>
<path d="M198.6 351.2L202.6 345.0L206.6 351.2Z" stroke="#ff66ff" stroke-width="2" fill="none" stroke-linejoin="round"/>
<path d="M210.4 351.2L214.4 345.0L218.4 351.2Z" stroke="#ff66ff" stroke-width="2" fill="none" stroke-linejoin="round"/>
<path d="M222.1 351.2L226.1 345.0L230.1 351.2Z" stroke="#ff66ff" stroke-width="2" fill="none" stroke-linejoin="round"/>
<path d="M233.8 351.2L237.8 345.0L241.8 351.2Z" stroke="#ff66ff" stroke-width="2" fill="none" stroke-linejoin="round"/>
<path d="M245.4 351.2L249.4 345.0L253.4 351.2Z" stroke="#ff66ff" stroke-width="2" fill="none" stroke-linejoin="round"/>
<path d="M257.0 351.2L261.0 345.0L265.0 351.2Z" stroke="#ff66ff" stroke-width="2" fill="none" stroke-linejoin="round"/>
<path d="M268.6 351.2L272.6 345.0L276.6 351.2Z" stroke="#ff66ff" stroke-width="2" fill="none" stroke-linejoin="round"/>
<path d="M280.1 351.2L284.1 345.0L288.1 351.2Z" stroke="#ff66ff" stroke-width="2" fill="none" stroke-linejoin="round"/>
<path d="M291.6 351.2L295.6 345.0L299.6 351.2Z" stroke="#ff66ff" stroke-width="2" fill="none" stroke-linejoin="round"/>
<path d="M303.0 351.2L307.0 345.0L311.0 351.2Z" stroke="#ff66ff" stroke-width="2" fill="none" stroke-linejoin="round"/>
<path d="M314.3 351.2L318.3 345.0L322.3 351.2Z" stroke="#ff66ff" stroke-width="2" fill="none" stroke-linejoin="round"/>
<path d="M325.7 351.2L329.7 345.0L333.7 351.2Z" stroke="#ff66ff" stroke-width="2" fill="none" stroke-linejoin="round"/>
<path d="M337.0 351.2L341.0 345.0L345.0 351.2Z" stroke="#ff66ff" stroke-width="2" fill="none" stroke-linejoin="round"/>
<path d="M348.4 351.2L352.4 345.0L356.4 351.2Z" stroke="#ff66ff" stroke-width="2" fill="none" stroke-linejoin="round"/>
<path d="M359.8 351.2L363.8 345.0L367.8 351.2Z" stroke="#ff66ff" stroke-width="2" fill="none" stroke-linejoin="round"/>
<path d="M371.1 351.2L375.1 345.0L379.1 351.2Z" stroke="#ff66ff" stroke-width="2" fill="none" stroke-linejoin="round"/>
<path d="M382.5 351.2L386.5 345.0L390.5 351.2Z" stroke="#ff66ff" stroke-width="2" fill="none" stroke-linejoin="round"/>
<path d="M393.8 351.2L397.8 345.0L401.8 351.2Z" stroke="#ff66ff" stroke-width="2" fill="none" stroke-linejoin="round"/>
<path d="M405.2 351.2L409.2 345.0L413.2 351.2Z" stroke="#ff66ff" stroke-width="2" fill="none" stroke-linejoin="round"/>
<path d="M416.6 351.2L420.6 345.0L424.6 351.2Z" stroke="#ff66ff" stroke-width="2" fill="none" stroke-linejoin="round"/>
<path d="M427.9 351.2L431.9 345.0L435.9 351.2Z" stroke="#ff66ff" stroke-width="2" fill="none" stroke-linejoin="round"/>
<path d="M439.3 351.2L443.3 345.0L447.3 351.2Z" stroke="#ff66ff" stroke-width="2" fill="none" stroke-linejoin="round"/>
<path d="M450.6 351.2L454.6 345.0L458.6 351.2Z" stroke="#ff66ff" stroke-width="2" fill="none" stroke-linejoin="round"/>
<path d="M462.0 351.2L466.0 345.0L470.0 351.2Z" stroke="#ff66ff" stroke-width="2" fill="none" stroke-linejoin="round"/>
<path d="M473.4 351.2L477.4 345.0L481.4 351.2Z" stroke="#ff66ff" stroke-width="2" fill="none" stroke-linejoin="round"/>
<path d="M484.8 351.2L488.8 345.0L492.8 351.2Z" stroke="#ff66ff" stroke-width="2" fill="none" stroke-linejoin="round"/>
<path d="M496.2 351.2L500.2 345.0L504.2 351.2Z" stroke="#ff66ff" stroke-width="2" fill="none" stroke-linejoin="round"/>
<path d="M507.6 351.2L511.6 345.0L515.6 351.2Z" stroke="#ff66ff" stroke-width="2" fill="none" stroke-linejoin="round"/>
<path d="M519.0 351.2L523.0 345.0L527.0 351.2Z" stroke="#ff66ff" stroke-width="2" fill="none" stroke-linejoin="round"/>
<path d="M530.4 351.2L534.4 345.0L538.4 351.2Z" stroke="#ff66ff" stroke-width="2" fill="none" stroke-linejoin="round"/>
<path d="M541.7 351.2L545.7 345.0L549.7 351.2Z" stroke="#ff66ff" stroke-width="2" fill="none" stroke-linejoin="round"/>
<path d="M553.0 351.2L557.0 345.0L561.0 351.2Z" stroke="#ff66ff" stroke-width="2" fill="none" stroke-linejoin="round"/>
<path d="M564.4 351.2L568.4 345.0L572.4 351.2Z" stroke="#ff66ff" stroke-width="2" fill="none" stroke-linejoin="round"/>
<path d="M575.7 351.2L579.7 345.0L583.7 351.2Z" stroke="#ff66ff" stroke-width="2" fill="none" stroke-linejoin="round"/>
<path d="M587.0 351.2L591.0 345.0L595.0 351.2Z" stroke="#ff66ff" stroke-width="2" fill="none" stroke-linejoin="round"/>
<path d="M598.2 351.2L602.2 345.0L606.2 351.2Z" stroke="#ff66ff" stroke-width="2" fill="none" stroke-linejoin="round"/>
<path d="M609.5 351.2L613.5 345.0L617.5 351.2Z" stroke="#ff66ff" stroke-width="2" fill="none" stroke-linejoin="round"/>
<path d="M620.8 351.2L624.8 345.0L628.8 351.2Z" stroke="#ff66ff" stroke-width="2" fill="none" stroke-linejoin="round"/>
<path d="M632.4 351.2L636.4 345.0L640.4 351.2Z" stroke="#ff66ff" stroke-width="2" fill="none" stroke-linejoin="round"/>
<path d="M644.3 351.2L648.3 345.0L652.3 351.2Z" stroke="#ff66ff" stroke-width="2" fill="none" stroke-linejoin="round"/>
<path d="M656.3 351.2L660.3 345.0L664.3 351.2Z" stroke="#ff66ff" stroke-width="2" fill="none" stroke-linejoin="round"/>
<path d="M669.5 351.2L673.5 345.0L677.5 351.2Z" stroke="#ff66ff" stroke-width="2" fill="none" stroke-linejoin="round"/>
<path d="M683.0 148.4L687.0 142.2L691.0 148.4Z" stroke="#ff66ff" stroke-width="2" fill="none" stroke-linejoin="round"/>
<path d="M696.6 148.4L700.6 142.2L704.6 148.4Z" stroke="#ff66ff" stroke-width="2" fill="none" stroke-linejoin="round"/>
<path d="M710.2 148.4L714.2 142.2L718.2 148.4Z" stroke="#ff66ff" stroke-width="2" fill="none" stroke-linejoin="round"/>
<path d="M724.2 148.4L728.2 142.2L732.2 148.4Z" stroke="#ff66ff" stroke-width="2" fill="none" stroke-linejoin="round"/>
<path d="M738.4 148.4L742.4 142.2L746.4 148.4Z" stroke="#ff66ff" stroke-width="2" fill="none" stroke-linejoin="round"/>
<path d="M751.8 148.4L755.8 142.2L759.8 148.4Z" stroke="#ff66ff" stroke-width="2" fill="none" stroke-linejoin="round"/>
<path d="M765.7 148.4L769.7 142.2L773.7 148.4Z" stroke="#ff66ff" stroke-width="2" fill="none" stroke-linejoin="round"/>
<path d="M779.7 148.4L783.7 142.2L787.7 148.4Z" stroke="#ff66ff" stroke-width="2" fill="none" stroke-linejoin="round"/>
<path d="M791.8 148.4L795.8 142.2L799.8 148.4Z" stroke="#ff66ff" stroke-width="2" fill="none" stroke-linejoin="round"/>
<path d="M94.8 370.8L107.1 370.8L119.2 370.8L131.2 370.8L143.2 370.8L155.2 370.8L167.1 370.8L179.0 370.8L190.8 370.8L202.6 370.8L214.4 370.8L226.1 370.8L237.8 370.8L249.4 370.8L261.0 370.8L272.6 370.8L284.1 370.8L295.6 370.8L307.0 370.8L318.3 370.8L329.7 370.8L341.0 370.8L352.4 370.8L363.8 370.8L375.1 370.8L386.5 370.8L397.8 370.8L409.2 370.8L420.6 370.8L431.9 370.8L443.3 370.8L454.6 370.8L466.0 370.8L477.4 370.8L488.8 370.8L500.2 370.8L511.6 370.8L523.0 370.8L534.4 370.8L545.7 370.8L557.0 370.8L568.4 370.8L579.7 370.8L591.0 370.8L602.2 370.8L613.5 362.1L624.8 316.4L636.4 272.9L648.3 232.2L660.3 195.4L673.5 161.6L687.0 135.2L700.6 111.9L714.2 93.5L728.2 79.0L742.4 68.0L755.8 60.4L769.7 56.6L783.7 56.4L795.8 52.0" stroke="#ff9900" stroke-width="2" fill="none" stroke-linejoin="round"/>
<rect x="104.1" y="367.8" width="6.0" height="6.0" stroke="#ff9900" stroke-width="2" fill="none"/>
<rect x="116.2" y="367.8" width="6.0" height="6.0" stroke="#ff9900" stroke-width="2" fill="none"/>
<rect x="128.2" y="367.8" width="6.0" height="6.0" stroke="#ff9900" stroke-width="2" fill="none"/>
<rect x="140.2" y="367.8" width="6.0" height="6.0" stroke="#ff9900" stroke-width="2" fill="none"/>
<rect x="152.2" y="367.8" width="6.0" height="6.0" stroke="#ff9900" stroke-width="2" fill="none"/>
<rect x="164.1" y="367.8" width="6.0" height="6.0" stroke="#ff9900" stroke-width="2" fill="none"/>
<rect x="176.0" y="367.8" width="6.0" height="6.0" stroke="#ff9900" stroke-width="2" fill="none"/>
<rect x="187.8" y="367.8" width="6.0" height="6.0" stroke="#ff9900" stroke-width="2" fill="none"/>
<rect x="199.6" y="367.8" width="6.0" height="6.0" stroke="#ff9900" stroke-width="2" fill="none"/>
<rect x="211.4" y="367.8" width="6.0" height="6.0" stroke="#ff9900" stroke-width="2" fill="none"/>
<rect x="223.1" y="367.8" width="6.0" height="6.0" stroke="#ff9900" stroke-width="2" fill="none"/>
<rect x="234.8" y="367.8" width="6.0" height="6.0" stroke="#ff9900" stroke-width="2" fill="none"/>
<rect x="246.4" y="367.8" width="6.0" height="6.0" stroke="#ff9900" stroke-width="2" fill="none"/>
<rect x="258.0" y="367.8" width="6.0" height="6.0" stroke="#ff9900" stroke-width="2" fill="none"/>
<rect x="269.6" y="367.8" width="6.0" height="6.0" stroke="#ff9900" stroke-width="2" fill="none"/>
<rect x="281.1" y="367.8" width="6.0" height="6.0" stroke="#ff9900" stroke-width="2" fill="none"/>
<rect x="292.6" y="367.8" width="6.0" height="6.0" stroke="#ff9900" stroke-width="2" fill="none"/>
<rect x="304.0" y="367.8" width="6.0" height="6.0" stroke="#ff9900" stroke-width="2" fill="none"/>
<rect x="315.3" y="367.8" width="6.0" height="6.0" stroke="#ff9900" stroke-width="2" fill="none"/>
<rect x="326.7" y="367.8" width="6.0" height="6.0" stroke="#ff9900" stroke-width="2" fill="none"/>
<rect x="338.0" y="367.8" width="6.0" height="6.0" stroke="#ff9900" stroke-width="2" fill="none"/>
<rect x="349.4" y="367.8" width="6.0" height="6.0" stroke="#ff9900" stroke-width="2" fill="none"/>
<rect x="360.8" y="367.8" width="6.0" height="6.0" stroke="#ff9900" stroke-width="2" fill="none"/>
<rect x="372.1" y="367.8" width="6.0" height="6.0" stroke="#ff9900" stroke-width="2" fill="none"/>
<rect x="383.5" y="367.8" width="6.0" height="6.0" stroke="#ff9900" stroke-width="2" fill="none"/>
<rect x="394.8" y="367.8" width="6.0" height="6.0" stroke="#ff9900" stroke-width="2" fill="none"/>
<rect x="406.2" y="367.8" width="6.0" height="6.0" stroke="#ff9900" stroke-width="2" fill="none"/>
<rect x="417.6" y="367.8" width="6.0" height="6.0" stroke="#ff9900" stroke-width="2" fill="none"/>
<rect x="428.9" y="367.8" width="6.0" height="6.0" stroke="#ff9900" stroke-width="2" fill="none"/>
<rect x="440.3" y="367.8" width="6.0" height="6.0" stroke="#ff9900" stroke-width="2" fill="none"/>
<rect x="451.6" y="367.8" width="6.0" height="6.0" stroke="#ff9900" stroke-width="2" fill="none"/>
<rect x="463.0" y="367.8" width="6.0" height="6.0" stroke="#ff9900" stroke-width="2" fill="none"/>
<rect x="474.4" y="367.8" width="6.0" height="6.0" stroke="#ff9900" stroke-width="2" fill="none"/>
<rect x="485.8" y="367.8" width="6.0" height="6.0" stroke="#ff9900" stroke-width="2" fill="none"/>
<rect x="497.2" y="367.8" width="6.0" height="6.0" stroke="#ff9900" stroke-width="2" fill="none"/>
<rect x="508.6" y="367.8" width="6.0" height="6.0" stroke="#ff9900" stroke-width="2" fill="none"/>
<rect x="520.0" y="367.8" width="6.0" height="6.0" stroke="#ff9900" stroke-width="2" fill="none"/>
<rect x="531.4" y="367.8" width="6.0" height="6.0" stroke="#ff9900" stroke-width="2" fill="none"/>
<rect x="542.7" y="367.8" width="6.0" height="6.0" stroke="#ff9900" stroke-width="2" fill="none"/>
<rect x="554.0" y="367.8" width="6.0" height="6.0" stroke="#ff9900" stroke-width="2" fill="none"/>
<rect x="565.4" y="367.8" width="6.0" height="6.0" stroke="#ff9900" stroke-width="2" fill="none"/>
<rect x="576.7" y="367.8" width="6.0" height="6.0" stroke="#ff9900" stroke-width="2" fill="none"/>
<rect x="588.0" y="367.8" width="6.0" height="6.0" stroke="#ff9900" stroke-width="2" fill="none"/>
<rect x="599.2" y="367.8" width="6.0" height="6.0" stroke="#ff9900" stroke-width="2" fill="none"/>
<rect x="610.5" y="359.1" width="6.0" height="6.0" stroke="#ff9900" stroke-width="2" fill="none"/>
<rect x="621.8" y="313.4" width="6.0" height="6.0" stroke="#ff9900" stroke-width="2" fill="none"/>
<rect x="633.4" y="269.9" width="6.0" height="6.0" stroke="#ff9900" stroke-width="2" fill="none"/>
<rect x="645.3" y="229.2" width="6.0" height="6.0" stroke="#ff9900" stroke-width="2" fill="none"/>
<rect x="657.3" y="192.4" width="6.0" height="6.0" stroke="#ff9900" stroke-width="2" fill="none"/>
<rect x="670.5" y="158.6" width="6.0" height="6.0" stroke="#ff9900" stroke-width="2" fill="none"/>
<rect x="684.0" y="132.2" width="6.0" height="6.0" stroke="#ff9900" stroke-width="2" fill="none"/>
<rect x="697.6" y="108.9" width="6.0" height="6.0" stroke="#ff9900" stroke-width="2" fill="none"/>
<rect x="711.2" y="90.5" width="6.0" height="6.0" stroke="#ff9900" stroke-width="2" fill="none"/>
<rect x="725.2" y="76.0" width="6.0" height="6.0" stroke="#ff9900" stroke-width="2" fill="none"/>
<rect x="739.4" y="65.0" width="6.0" height="6.0" stroke="#ff9900" stroke-width="2" fill="none"/>
<rect x="752.8" y="57.4" width="6.0" height="6.0" stroke="#ff9900" stroke-width="2" fill="none"/>
<rect x="766.7" y="53.6" width="6.0" height="6.0" stroke="#ff9900" stroke-width="2" fill="none"/>
<rect x="780.7" y="53.4" width="6.0" height="6.0" stroke="#ff9900" stroke-width="2" fill="none"/>
<rect x="792.8" y="49.0" width="6.0" height="6.0" stroke="#ff9900" stroke-width="2" fill="none"/>
<path d="M94.8 336.3L107.1 336.3M107.1 336.3L119.2 336.3M119.2 336.3L131.2 336.3M131.2 336.3L143.2 336.3M143.2 336.3L155.2 336.3M155.2 336.3L167.1 336.3M167.1 336.3L179.0 336.3M179.0 336.3L190.8 336.3M190.8 336.3L202.6 336.3M202.6 336.3L214.4 336.3M214.4 336.3L226.1 336.3M226.1 336.3L237.8 336.3M237.8 336.3L249.4 336.3M249.4 336.3L261.0 336.3M261.0 336.3L272.6 336.3M272.6 336.3L284.1 336.3M284.1 336.3L295.6 336.3M295.6 336.3L307.0 336.3M307.0 336.3L318.3 336.3M318.3 336.3L329.7 336.3M329.7 336.3L341.0 336.3M341.0 336.3L352.4 336.3M352.4 336.3L363.8 336.3M363.8 336.3L375.1 336.3M375.1 336.3L386.5 336.3M386.5 336.3L397.8 336.3M397.8 336.3L409.2 336.3M409.2 336.3L420.6 336.3M420.6 336.3L431.9 336.3M431.9 336.3L443.3 336.3M443.3 336.3L454.6 336.3M454.6 336.3L466.0 336.3M466.0 336.3L477.4 336.3M477.4 336.3L488.8 336.3M488.8 336.3L500.2 336.3M500.2 336.3L511.6 336.3M511.6 336.3L523.0 336.3M523.0 336.3L534.4 336.3M534.4 336.3L545.7 328.8M545.7 328.8L557.0 317.4M557.0 317.4L568.4 304.8M568.4 304.8L579.7 292.2M579.7 292.2L591.0 279.6M591.0 279.6L602.2 266.0M602.2 266.0L613.5 253.5M613.5 253.5L624.8 242.7M624.8 242.7L636.4 231.6M636.4 231.6L647.6 220.4M647.6 220.4L659.2 210.0M659.2 210.0L671.0 201.8M671.0 201.8L682.5 194.6M682.5 194.6L695.4 186.4M695.4 186.4L707.8 180.1M707.8 180.1L721.7 176.5M721.7 176.5L735.8 172.9M735.8 172.9L751.2 170.2M751.2 170.2L766.0 168.0M766.0 168.0L780.5 166.9M780.5 166.9L794.6 165.7" stroke="#ff0000" stroke-width="2" fill="none" stroke-dasharray="6.3 4.9"/>
<path d="M103.5 336.3H110.7M107.1 332.7V339.9" stroke="#ff0000" stroke-width="2" fill="none"/>
<path d="M115.6 336.3H122.8M119.2 332.7V339.9" stroke="#ff0000" stroke-width="2" fill="none"/>
<path d="M127.6 336.3H134.8M131.2 332.7V339.9" stroke="#ff0000" stroke-width="2" fill="none"/>
<path d="M139.6 336.3H146.8M143.2 332.7V339.9" stroke="#ff0000" stroke-width="2" fill="none"/>
<path d="M151.6 336.3H158.8M155.2 332.7V339.9" stroke="#ff0000" stroke-width="2" fill="none"/>
<path d="M163.5 336.3H170.7M167.1 332.7V339.9" stroke="#ff0000" stroke-width="2" fill="none"/>
<path d="M175.4 336.3H182.6M179.0 332.7V339.9" stroke="#ff0000" stroke-width="2" fill="none"/>
<path d="M187.2 336.3H194.4M190.8 332.7V339.9" stroke="#ff0000" stroke-width="2" fill="none"/>
<path d="M199.0 336.3H206.2M202.6 332.7V339.9" stroke="#ff0000" stroke-width="2" fill="none"/>
<path d="M210.8 336.3H218.0M214.4 332.7V339.9" stroke="#ff0000" stroke-width="2" fill="none"/>
<path d="M222.5 336.3H229.7M226.1 332.7V339.9" stroke="#ff0000" stroke-width="2" fill="none"/>
<path d="M234.2 336.3H241.4M237.8 332.7V339.9" stroke="#ff0000" stroke-width="2" fill="none"/>
<path d="M245.8 336.3H253.0M249.4 332.7V339.9" stroke="#ff0000" stroke-width="2" fill="none"/>
<path d="M257.4 336.3H264.6M261.0 332.7V339.9" stroke="#ff0000" stroke-width="2" fill="none"/>
<path d="M269.0 336.3H276.2M272.6 332.7V339.9" stroke="#ff0000" stroke-width="2" fill="none"/>
<path d="M280.5 336.3H287.7M284.1 332.7V339.9" stroke="#ff0000" stroke-width="2" fill="none"/>
<path d="M292.0 336.3H299.2M295.6 332.7V339.9" stroke="#ff0000" stroke-width="2" fill="none"/>
<path d="M303.4 336.3H310.6M307.0 332.7V339.9" stroke="#ff0000" stroke-width="2" fill="none"/>
<path d="M314.7 336.3H321.9M318.3 332.7V339.9" stroke="#ff0000" stroke-width="2" fill="none"/>
<path d="M326.1 336.3H333.3M329.7 332.7V339.9" stroke="#ff0000" stroke-width="2" fill="none"/>
<path d="M337.4 336.3H344.6M341.0 332.7V339.9" stroke="#ff0000" stroke-width="2" fill="none"/>
<path d="M348.8 336.3H356.0M352.4 332.7V339.9" stroke="#ff0000" stroke-width="2" fill="none"/>
<path d="M360.2 336.3H367.4M363.8 332.7V339.9" stroke="#ff0000" stroke-width="2" fill="none"/>
<path d="M371.5 336.3H378.7M375.1 332.7V339.9" stroke="#ff0000" stroke-width="2" fill="none"/>
<path d="M382.9 336.3H390.1M386.5 332.7V339.9" stroke="#ff0000" stroke-width="2" fill="none"/>
<path d="M394.2 336.3H401.4M397.8 332.7V339.9" stroke="#ff0000" stroke-width="2" fill="none"/>
<path d="M405.6 336.3H412.8M409.2 332.7V339.9" stroke="#ff0000" stroke-width="2" fill="none"/>
<path d="M417.0 336.3H424.2M420.6 332.7V339.9" stroke="#ff0000" stroke-width="2" fill="none"/>
<path d="M428.3 336.3H435.5M431.9 332.7V339.9" stroke="#ff0000" stroke-width="2" fill="none"/>
<path d="M439.7 336.3H446.9M443.3 332.7V339.9" stroke="#ff0000" stroke-width="2" fill="none"/>
<path d="M451.0 336.3H458.2M454.6 332.7V339.9" stroke="#ff0000" stroke-width="2" fill="none"/>
<path d="M462.4 336.3H469.6M466.0 332.7V339.9" stroke="#ff0000" stroke-width="2" fill="none"/>
<path d="M473.8 336.3H481.0M477.4 332.7V339.9" stroke="#ff0000" stroke-width="2" fill="none"/>
<path d="M485.2 336.3H492.4M488.8 332.7V339.9" stroke="#ff0000" stroke-width="2" fill="none"/>
<path d="M496.6 336.3H503.8M500.2 332.7V339.9" stroke="#ff0000" stroke-width="2" fill="none"/>
<path d="M508.0 336.3H515.2M511.6 332.7V339.9" stroke="#ff0000" stroke-width="2" fill="none"/>
<path d="M519.4 336.3H526.6M523.0 332.7V339.9" stroke="#ff0000" stroke-width="2" fill="none"/>
<path d="M530.8 336.3H538.0M534.4 332.7V339.9" stroke="#ff0000" stroke-width="2" fill="none"/>
<path d="M542.1 328.8H549.3M545.7 325.2V332.4" stroke="#ff0000" stroke-width="2" fill="none"/>
<path d="M553.4 317.4H560.6M557.0 313.8V321.0" stroke="#ff0000" stroke-width="2" fill="none"/>
<path d="M564.8 304.8H572.0M568.4 301.2V308.4" stroke="#ff0000" stroke-width="2" fill="none"/>
<path d="M576.1 292.2H583.3M579.7 288.6V295.8" stroke="#ff0000" stroke-width="2" fill="none"/>
<path d="M587.4 279.6H594.6M591.0 276.0V283.2" stroke="#ff0000" stroke-width="2" fill="none"/>
<path d="M598.6 266.0H605.8M602.2 262.4V269.6" stroke="#ff0000" stroke-width="2" fill="none"/>
<path d="M609.9 253.5H617.1M613.5 249.9V257.1" stroke="#ff0000" stroke-width="2" fill="none"/>
<path d="M621.2 242.7H628.4M624.8 239.1V246.3" stroke="#ff0000" stroke-width="2" fill="none"/>
<path d="M632.8 231.6H640.0M636.4 228.0V235.2" stroke="#ff0000" stroke-width="2" fill="none"/>
<path d="M644.0 220.4H651.2M647.6 216.8V224.0" stroke="#ff0000" stroke-width="2" fill="none"/>
<path d="M655.6 210.0H662.8M659.2 206.4V213.6" stroke="#ff0000" stroke-width="2" fill="none"/>
<path d="M667.4 201.8H674.6M671.0 198.2V205.4" stroke="#ff0000" stroke-width="2" fill="none"/>
<path d="M678.9 194.6H686.1M682.5 191.0V198.2" stroke="#ff0000" stroke-width="2" fill="none"/>
<path d="M691.8 186.4H699.0M695.4 182.8V190.0" stroke="#ff0000" stroke-width="2" fill="none"/>
<path d="M704.2 180.1H711.4M707.8 176.5V183.7" stroke="#ff0000" stroke-width="2" fill="none"/>
<path d="M718.1 176.5H725.3M721.7 172.9V180.1" stroke="#ff0000" stroke-width="2" fill="none"/>
<path d="M732.2 172.9H739.4M735.8 169.3V176.5" stroke="#ff0000" stroke-width="2" fill="none"/>
<path d="M747.6 170.2H754.8M751.2 166.6V173.8" stroke="#ff0000" stroke-width="2" fill="none"/>
<path d="M762.4 168.0H769.6M766.0 164.4V171.6" stroke="#ff0000" stroke-width="2" fill="none"/>
<path d="M776.9 166.9H784.1M780.5 163.3V170.5" stroke="#ff0000" stroke-width="2" fill="none"/>
<path d="M791.0 165.7H798.2M794.6 162.1V169.3" stroke="#ff0000" stroke-width="2" fill="none"/>
<path d="M94.8 271.4L107.1 271.4M107.1 271.4L119.2 271.4M119.2 271.4L131.2 271.4M131.2 271.4L143.2 271.4M143.2 271.4L155.2 271.4M155.2 271.4L167.1 271.4M167.1 271.4L179.0 271.4M179.0 271.4L190.8 271.4M190.8 271.4L202.6 271.4M202.6 271.4L214.4 271.4M214.4 271.4L226.1 271.4M226.1 271.4L237.8 271.4M237.8 271.4L249.4 271.4M249.4 271.4L261.0 271.4M261.0 271.4L272.6 271.4M272.6 271.4L284.1 271.4M284.1 271.4L295.6 271.4M295.6 271.4L307.0 271.4M307.0 271.4L318.3 271.4M318.3 271.4L329.7 271.4M329.7 271.4L341.0 271.4M341.0 271.4L352.4 271.4M352.4 271.4L363.8 271.4M363.8 271.4L375.1 271.4M375.1 271.4L386.5 271.4M386.5 271.4L397.8 271.4M397.8 271.4L409.2 271.4M409.2 271.4L420.6 271.4M420.6 271.4L431.9 271.4M431.9 271.4L443.3 271.4M443.3 271.4L454.6 271.4M454.6 271.4L466.0 271.4M466.0 271.4L477.4 271.4M477.4 271.4L488.8 271.4M488.8 271.4L500.2 271.4M500.2 271.4L511.6 271.4M511.6 271.4L523.0 271.4M523.0 271.4L534.4 271.4M534.4 271.4L545.7 271.4M545.7 271.4L557.0 271.4M557.0 271.4L568.4 271.4M568.4 271.4L579.7 271.4M579.7 271.4L591.0 271.4M591.0 271.4L602.2 271.4M602.2 271.4L613.5 271.4M613.5 271.4L624.8 271.4M624.8 271.4L636.4 271.4M636.4 271.4L647.6 271.4M647.6 271.4L659.2 271.4M659.2 271.4L671.0 271.4M671.0 271.4L682.5 271.4M682.5 271.4L695.4 271.4M695.4 271.4L707.8 271.4M707.8 271.4L721.7 271.4M721.7 271.4L735.8 271.4M735.8 271.4L751.2 265.1M751.2 265.1L766.0 252.4M766.0 252.4L780.5 234.7M780.5 234.7L794.6 216.3" stroke="#33ff00" stroke-width="2" fill="none" stroke-dasharray="6.3 4.9"/>
<path d="M103.8 271.4H110.4M107.1 268.1V274.7M104.1 268.4L110.1 274.4M104.1 274.4L110.1 268.4" stroke="#33ff00" stroke-width="2" fill="none"/>
<path d="M115.9 271.4H122.5M119.2 268.1V274.7M116.2 268.4L122.2 274.4M116.2 274.4L122.2 268.4" stroke="#33ff00" stroke-width="2" fill="none"/>
<path d="M127.9 271.4H134.5M131.2 268.1V274.7M128.2 268.4L134.3 274.4M128.2 274.4L134.3 268.4" stroke="#33ff00" stroke-width="2" fill="none"/>
<path d="M139.9 271.4H146.5M143.2 268.1V274.7M140.2 268.4L146.3 274.4M140.2 274.4L146.3 268.4" stroke="#33ff00" stroke-width="2" fill="none"/>
<path d="M151.9 271.4H158.5M155.2 268.1V274.7M152.2 268.4L158.2 274.4M152.2 274.4L158.2 268.4" stroke="#33ff00" stroke-width="2" fill="none"/>
<path d="M163.8 271.4H170.4M167.1 268.1V274.7M164.1 268.4L170.2 274.4M164.1 274.4L170.2 268.4" stroke="#33ff00" stroke-width="2" fill="none"/>
<path d="M175.7 271.4H182.3M179.0 268.1V274.7M176.0 268.4L182.0 274.4M176.0 274.4L182.0 268.4" stroke="#33ff00" stroke-width="2" fill="none"/>
<path d="M187.5 271.4H194.1M190.8 268.1V274.7M187.8 268.4L193.9 274.4M187.8 274.4L193.9 268.4" stroke="#33ff00" stroke-width="2" fill="none"/>
<path d="M199.3 271.4H205.9M202.6 268.1V274.7M199.6 268.4L205.7 274.4M199.6 274.4L205.7 268.4" stroke="#33ff00" stroke-width="2" fill="none"/>
<path d="M211.1 271.4H217.7M214.4 268.1V274.7M211.4 268.4L217.4 274.4M211.4 274.4L217.4 268.4" stroke="#33ff00" stroke-width="2" fill="none"/>
<path d="M222.8 271.4H229.4M226.1 268.1V274.7M223.1 268.4L229.2 274.4M223.1 274.4L229.2 268.4" stroke="#33ff00" stroke-width="2" fill="none"/>
<path d="M234.5 271.4H241.1M237.8 268.1V274.7M234.8 268.4L240.8 274.4M234.8 274.4L240.8 268.4" stroke="#33ff00" stroke-width="2" fill="none"/>
<path d="M246.1 271.4H252.7M249.4 268.1V274.7M246.4 268.4L252.5 274.4M246.4 274.4L252.5 268.4" stroke="#33ff00" stroke-width="2" fill="none"/>
<path d="M257.7 271.4H264.3M261.0 268.1V274.7M258.0 268.4L264.1 274.4M258.0 274.4L264.1 268.4" stroke="#33ff00" stroke-width="2" fill="none"/>
<path d="M269.3 271.4H275.9M272.6 268.1V274.7M269.6 268.4L275.6 274.4M269.6 274.4L275.6 268.4" stroke="#33ff00" stroke-width="2" fill="none"/>
<path d="M280.8 271.4H287.4M284.1 268.1V274.7M281.1 268.4L287.2 274.4M281.1 274.4L287.2 268.4" stroke="#33ff00" stroke-width="2" fill="none"/>
<path d="M292.3 271.4H298.9M295.6 268.1V274.7M292.6 268.4L298.6 274.4M292.6 274.4L298.6 268.4" stroke="#33ff00" stroke-width="2" fill="none"/>
<path d="M303.7 271.4H310.3M307.0 268.1V274.7M303.9 268.4L310.0 274.4M303.9 274.4L310.0 268.4" stroke="#33ff00" stroke-width="2" fill="none"/>
<path d="M315.0 271.4H321.6M318.3 268.1V274.7M315.3 268.4L321.4 274.4M315.3 274.4L321.4 268.4" stroke="#33ff00" stroke-width="2" fill="none"/>
<path d="M326.4 271.4H333.0M329.7 268.1V274.7M326.6 268.4L332.7 274.4M326.6 274.4L332.7 268.4" stroke="#33ff00" stroke-width="2" fill="none"/>
<path d="M337.7 271.4H344.3M341.0 268.1V274.7M338.0 268.4L344.1 274.4M338.0 274.4L344.1 268.4" stroke="#33ff00" stroke-width="2" fill="none"/>
<path d="M349.1 271.4H355.7M352.4 268.1V274.7M349.4 268.4L355.4 274.4M349.4 274.4L355.4 268.4" stroke="#33ff00" stroke-width="2" fill="none"/>
<path d="M360.5 271.4H367.1M363.8 268.1V274.7M360.7 268.4L366.8 274.4M360.7 274.4L366.8 268.4" stroke="#33ff00" stroke-width="2" fill="none"/>
<path d="M371.8 271.4H378.4M375.1 268.1V274.7M372.1 268.4L378.2 274.4M372.1 274.4L378.2 268.4" stroke="#33ff00" stroke-width="2" fill="none"/>
<path d="M383.2 271.4H389.8M386.5 268.1V274.7M383.4 268.4L389.5 274.4M383.4 274.4L389.5 268.4" stroke="#33ff00" stroke-width="2" fill="none"/>
<path d="M394.5 271.4H401.1M397.8 268.1V274.7M394.8 268.4L400.9 274.4M394.8 274.4L400.9 268.4" stroke="#33ff00" stroke-width="2" fill="none"/>
<path d="M405.9 271.4H412.5M409.2 268.1V274.7M406.2 268.4L412.2 274.4M406.2 274.4L412.2 268.4" stroke="#33ff00" stroke-width="2" fill="none"/>
<path d="M417.3 271.4H423.9M420.6 268.1V274.7M417.5 268.4L423.6 274.4M417.5 274.4L423.6 268.4" stroke="#33ff00" stroke-width="2" fill="none"/>
<path d="M428.6 271.4H435.2M431.9 268.1V274.7M428.9 268.4L435.0 274.4M428.9 274.4L435.0 268.4" stroke="#33ff00" stroke-width="2" fill="none"/>
<path d="M440.0 271.4H446.6M443.3 268.1V274.7M440.2 268.4L446.3 274.4M440.2 274.4L446.3 268.4" stroke="#33ff00" stroke-width="2" fill="none"/>
<path d="M451.3 271.4H457.9M454.6 268.1V274.7M451.6 268.4L457.7 274.4M451.6 274.4L457.7 268.4" stroke="#33ff00" stroke-width="2" fill="none"/>
<path d="M462.7 271.4H469.3M466.0 268.1V274.7M463.0 268.4L469.0 274.4M463.0 274.4L469.0 268.4" stroke="#33ff00" stroke-width="2" fill="none"/>
<path d="M474.1 271.4H480.7M477.4 268.1V274.7M474.3 268.4L480.4 274.4M474.3 274.4L480.4 268.4" stroke="#33ff00" stroke-width="2" fill="none"/>
<path d="M485.5 271.4H492.1M488.8 268.1V274.7M485.7 268.4L491.8 274.4M485.7 274.4L491.8 268.4" stroke="#33ff00" stroke-width="2" fill="none"/>
<path d="M496.9 271.4H503.5M500.2 268.1V274.7M497.1 268.4L503.2 274.4M497.1 274.4L503.2 268.4" stroke="#33ff00" stroke-width="2" fill="none"/>
<path d="M508.3 271.4H514.9M511.6 268.1V274.7M508.5 268.4L514.6 274.4M508.5 274.4L514.6 268.4" stroke="#33ff00" stroke-width="2" fill="none"/>
<path d="M519.7 271.4H526.3M523.0 268.1V274.7M519.9 268.4L526.0 274.4M519.9 274.4L526.0 268.4" stroke="#33ff00" stroke-width="2" fill="none"/>
<path d="M531.1 271.4H537.7M534.4 268.1V274.7M531.3 268.4L537.4 274.4M531.3 274.4L537.4 268.4" stroke="#33ff00" stroke-width="2" fill="none"/>
<path d="M542.4 271.4H549.0M545.7 268.1V274.7M542.7 268.4L548.7 274.4M542.7 274.4L548.7 268.4" stroke="#33ff00" stroke-width="2" fill="none"/>
<path d="M553.7 271.4H560.3M557.0 268.1V274.7M554.0 268.4L560.0 274.4M554.0 274.4L560.0 268.4" stroke="#33ff00" stroke-width="2" fill="none"/>
<path d="M565.1 271.4H571.7M568.4 268.1V274.7M565.4 268.4L571.4 274.4M565.4 274.4L571.4 268.4" stroke="#33ff00" stroke-width="2" fill="none"/>
<path d="M576.4 271.4H583.0M579.7 268.1V274.7M576.7 268.4L582.7 274.4M576.7 274.4L582.7 268.4" stroke="#33ff00" stroke-width="2" fill="none"/>
<path d="M587.7 271.4H594.3M591.0 268.1V274.7M588.0 268.4L594.0 274.4M588.0 274.4L594.0 268.4" stroke="#33ff00" stroke-width="2" fill="none"/>
<path d="M598.9 271.4H605.5M602.2 268.1V274.7M599.2 268.4L605.2 274.4M599.2 274.4L605.2 268.4" stroke="#33ff00" stroke-width="2" fill="none"/>
<path d="M610.2 271.4H616.8M613.5 268.1V274.7M610.5 268.4L616.5 274.4M610.5 274.4L616.5 268.4" stroke="#33ff00" stroke-width="2" fill="none"/>
<path d="M621.5 271.4H628.1M624.8 268.1V274.7M621.8 268.4L627.8 274.4M621.8 274.4L627.8 268.4" stroke="#33ff00" stroke-width="2" fill="none"/>
<path d="M633.1 271.4H639.7M636.4 268.1V274.7M633.4 268.4L639.4 274.4M633.4 274.4L639.4 268.4" stroke="#33ff00" stroke-width="2" fill="none"/>
<path d="M644.3 271.4H650.9M647.6 268.1V274.7M644.6 268.4L650.6 274.4M644.6 274.4L650.6 268.4" stroke="#33ff00" stroke-width="2" fill="none"/>
<path d="M655.9 271.4H662.5M659.2 268.1V274.7M656.2 268.4L662.2 274.4M656.2 274.4L662.2 268.4" stroke="#33ff00" stroke-width="2" fill="none"/>
<path d="M667.7 271.4H674.3M671.0 268.1V274.7M668.0 268.4L674.0 274.4M668.0 274.4L674.0 268.4" stroke="#33ff00" stroke-width="2" fill="none"/>
<path d="M679.2 271.4H685.8M682.5 268.1V274.7M679.5 268.4L685.5 274.4M679.5 274.4L685.5 268.4" stroke="#33ff00" stroke-width="2" fill="none"/>
<path d="M692.1 271.4H698.7M695.4 268.1V274.7M692.4 268.4L698.4 274.4M692.4 274.4L698.4 268.4" stroke="#33ff00" stroke-width="2" fill="none"/>
<path d="M704.5 271.4H711.1M707.8 268.1V274.7M704.8 268.4L710.8 274.4M704.8 274.4L710.8 268.4" stroke="#33ff00" stroke-width="2" fill="none"/>
<path d="M718.4 271.4H725.0M721.7 268.1V274.7M718.7 268.4L724.7 274.4M718.7 274.4L724.7 268.4" stroke="#33ff00" stroke-width="2" fill="none"/>
<path d="M732.5 271.4H739.1M735.8 268.1V274.7M732.8 268.4L738.8 274.4M732.8 274.4L738.8 268.4" stroke="#33ff00" stroke-width="2" fill="none"/>
<path d="M747.9 265.1H754.5M751.2 261.8V268.4M748.2 262.1L754.2 268.1M748.2 268.1L754.2 262.1" stroke="#33ff00" stroke-width="2" fill="none"/>
<path d="M762.7 252.4H769.3M766.0 249.1V255.7M763.0 249.4L769.0 255.4M763.0 255.4L769.0 249.4" stroke="#33ff00" stroke-width="2" fill="none"/>
<path d="M777.2 234.7H783.8M780.5 231.4V238.0M777.5 231.7L783.5 237.7M777.5 237.7L783.5 231.7" stroke="#33ff00" stroke-width="2" fill="none"/>
<path d="M791.3 216.3H797.9M794.6 213.0V219.6M791.6 213.3L797.6 219.3M791.6 219.3L797.6 213.3" stroke="#33ff00" stroke-width="2" fill="none"/>
<path d="M94.8 438.5L107.1 438.5M107.1 438.5L119.2 438.5M119.2 438.5L131.2 438.5M131.2 438.5L143.2 438.5M143.2 438.5L155.2 438.5M155.2 438.5L167.1 438.5M167.1 438.5L179.0 438.5M179.0 438.5L190.8 438.5M190.8 438.5L202.6 438.5M202.6 438.5L214.4 438.5M214.4 438.5L226.1 438.5M226.1 438.5L237.8 438.5M237.8 438.5L249.4 438.5M249.4 438.5L261.0 438.5M261.0 438.5L272.6 438.5M272.6 438.5L284.1 438.5M284.1 438.5L295.6 438.5M295.6 438.5L307.0 438.5M307.0 438.5L318.3 438.5M318.3 438.5L329.7 438.5M329.7 438.5L341.0 438.5M341.0 438.5L352.4 438.5M352.4 438.5L363.8 438.5M363.8 438.5L375.1 438.5M375.1 438.5L386.5 438.5M386.5 438.5L397.8 438.5M397.8 438.5L409.2 438.5M409.2 438.5L420.6 438.5M420.6 438.5L431.9 438.5M431.9 438.5L443.3 438.5M443.3 438.5L454.6 438.5M454.6 438.5L466.0 438.5M466.0 438.5L477.4 438.5M477.4 438.5L488.8 438.5M488.8 438.5L500.2 438.5M500.2 438.5L511.6 438.5M511.6 438.5L523.0 438.5M523.0 438.5L534.4 438.5M534.4 438.5L545.7 438.5M545.7 438.5L557.0 438.5M557.0 438.5L568.4 438.5M568.4 438.5L579.7 438.5M579.7 438.5L591.0 438.5M591.0 438.5L602.2 438.5M602.2 438.5L613.5 438.5M613.5 438.5L624.8 438.5M624.8 438.5L636.4 438.5M636.4 438.5L647.6 438.5M647.6 438.5L659.2 438.5M659.2 438.5L671.0 226.6M671.0 226.6L682.5 183.7M682.5 183.7L695.4 183.7M695.4 183.7L707.8 183.7M707.8 183.7L721.7 183.7M721.7 183.7L735.8 183.7M735.8 183.7L751.2 183.7M751.2 183.7L766.0 183.7M766.0 183.7L780.5 183.7M780.5 183.7L794.6 183.7" stroke="#0066ff" stroke-width="2" fill="none" stroke-dasharray="6.3 4.9"/>
<path d="M104.2 438.5L107.1 435.6L110.0 438.5L107.1 441.4Z" stroke="#0066ff" stroke-width="2" fill="none" stroke-linejoin="miter"/>
<path d="M116.3 438.5L119.2 435.6L122.1 438.5L119.2 441.4Z" stroke="#0066ff" stroke-width="2" fill="none" stroke-linejoin="miter"/>
<path d="M128.3 438.5L131.2 435.6L134.1 438.5L131.2 441.4Z" stroke="#0066ff" stroke-width="2" fill="none" stroke-linejoin="miter"/>
<path d="M140.3 438.5L143.2 435.6L146.1 438.5L143.2 441.4Z" stroke="#0066ff" stroke-width="2" fill="none" stroke-linejoin="miter"/>
<path d="M152.3 438.5L155.2 435.6L158.1 438.5L155.2 441.4Z" stroke="#0066ff" stroke-width="2" fill="none" stroke-linejoin="miter"/>
<path d="M164.2 438.5L167.1 435.6L170.0 438.5L167.1 441.4Z" stroke="#0066ff" stroke-width="2" fill="none" stroke-linejoin="miter"/>
<path d="M176.1 438.5L179.0 435.6L181.9 438.5L179.0 441.4Z" stroke="#0066ff" stroke-width="2" fill="none" stroke-linejoin="miter"/>
<path d="M187.9 438.5L190.8 435.6L193.7 438.5L190.8 441.4Z" stroke="#0066ff" stroke-width="2" fill="none" stroke-linejoin="miter"/>
<path d="M199.7 438.5L202.6 435.6L205.5 438.5L202.6 441.4Z" stroke="#0066ff" stroke-width="2" fill="none" stroke-linejoin="miter"/>
<path d="M211.5 438.5L214.4 435.6L217.3 438.5L214.4 441.4Z" stroke="#0066ff" stroke-width="2" fill="none" stroke-linejoin="miter"/>
<path d="M223.2 438.5L226.1 435.6L229.0 438.5L226.1 441.4Z" stroke="#0066ff" stroke-width="2" fill="none" stroke-linejoin="miter"/>
<path d="M234.9 438.5L237.8 435.6L240.7 438.5L237.8 441.4Z" stroke="#0066ff" stroke-width="2" fill="none" stroke-linejoin="miter"/>
<path d="M246.5 438.5L249.4 435.6L252.3 438.5L249.4 441.4Z" stroke="#0066ff" stroke-width="2" fill="none" stroke-linejoin="miter"/>
<path d="M258.1 438.5L261.0 435.6L263.9 438.5L261.0 441.4Z" stroke="#0066ff" stroke-width="2" fill="none" stroke-linejoin="miter"/>
<path d="M269.7 438.5L272.6 435.6L275.5 438.5L272.6 441.4Z" stroke="#0066ff" stroke-width="2" fill="none" stroke-linejoin="miter"/>
<path d="M281.2 438.5L284.1 435.6L287.0 438.5L284.1 441.4Z" stroke="#0066ff" stroke-width="2" fill="none" stroke-linejoin="miter"/>
<path d="M292.7 438.5L295.6 435.6L298.5 438.5L295.6 441.4Z" stroke="#0066ff" stroke-width="2" fill="none" stroke-linejoin="miter"/>
<path d="M304.1 438.5L307.0 435.6L309.9 438.5L307.0 441.4Z" stroke="#0066ff" stroke-width="2" fill="none" stroke-linejoin="miter"/>
<path d="M315.4 438.5L318.3 435.6L321.2 438.5L318.3 441.4Z" stroke="#0066ff" stroke-width="2" fill="none" stroke-linejoin="miter"/>
<path d="M326.8 438.5L329.7 435.6L332.6 438.5L329.7 441.4Z" stroke="#0066ff" stroke-width="2" fill="none" stroke-linejoin="miter"/>
<path d="M338.1 438.5L341.0 435.6L343.9 438.5L341.0 441.4Z" stroke="#0066ff" stroke-width="2" fill="none" stroke-linejoin="miter"/>
<path d="M349.5 438.5L352.4 435.6L355.3 438.5L352.4 441.4Z" stroke="#0066ff" stroke-width="2" fill="none" stroke-linejoin="miter"/>
<path d="M360.9 438.5L363.8 435.6L366.7 438.5L363.8 441.4Z" stroke="#0066ff" stroke-width="2" fill="none" stroke-linejoin="miter"/>
<path d="M372.2 438.5L375.1 435.6L378.0 438.5L375.1 441.4Z" stroke="#0066ff" stroke-width="2" fill="none" stroke-linejoin="miter"/>
<path d="M383.6 438.5L386.5 435.6L389.4 438.5L386.5 441.4Z" stroke="#0066ff" stroke-width="2" fill="none" stroke-linejoin="miter"/>
<path d="M394.9 438.5L397.8 435.6L400.7 438.5L397.8 441.4Z" stroke="#0066ff" stroke-width="2" fill="none" stroke-linejoin="miter"/>
<path d="M406.3 438.5L409.2 435.6L412.1 438.5L409.2 441.4Z" stroke="#0066ff" stroke-width="2" fill="none" stroke-linejoin="miter"/>
<path d="M417.7 438.5L420.6 435.6L423.5 438.5L420.6 441.4Z" stroke="#0066ff" stroke-width="2" fill="none" stroke-linejoin="miter"/>
<path d="M429.0 438.5L431.9 435.6L434.8 438.5L431.9 441.4Z" stroke="#0066ff" stroke-width="2" fill="none" stroke-linejoin="miter"/>
<path d="M440.4 438.5L443.3 435.6L446.2 438.5L443.3 441.4Z" stroke="#0066ff" stroke-width="2" fill="none" stroke-linejoin="miter"/>
<path d="M451.7 438.5L454.6 435.6L457.5 438.5L454.6 441.4Z" stroke="#0066ff" stroke-width="2" fill="none" stroke-linejoin="miter"/>
<path d="M463.1 438.5L466.0 435.6L468.9 438.5L466.0 441.4Z" stroke="#0066ff" stroke-width="2" fill="none" stroke-linejoin="miter"/>
<path d="M474.5 438.5L477.4 435.6L480.3 438.5L477.4 441.4Z" stroke="#0066ff" stroke-width="2" fill="none" stroke-linejoin="miter"/>
<path d="M485.9 438.5L488.8 435.6L491.7 438.5L488.8 441.4Z" stroke="#0066ff" stroke-width="2" fill="none" stroke-linejoin="miter"/>
<path d="M497.3 438.5L500.2 435.6L503.1 438.5L500.2 441.4Z" stroke="#0066ff" stroke-width="2" fill="none" stroke-linejoin="miter"/>
<path d="M508.7 438.5L511.6 435.6L514.5 438.5L511.6 441.4Z" stroke="#0066ff" stroke-width="2" fill="none" stroke-linejoin="miter"/>
<path d="M520.1 438.5L523.0 435.6L525.9 438.5L523.0 441.4Z" stroke="#0066ff" stroke-width="2" fill="none" stroke-linejoin="miter"/>
<path d="M531.5 438.5L534.4 435.6L537.3 438.5L534.4 441.4Z" stroke="#0066ff" stroke-width="2" fill="none" stroke-linejoin="miter"/>
<path d="M542.8 438.5L545.7 435.6L548.6 438.5L545.7 441.4Z" stroke="#0066ff" stroke-width="2" fill="none" stroke-linejoin="miter"/>
<path d="M554.1 438.5L557.0 435.6L559.9 438.5L557.0 441.4Z" stroke="#0066ff" stroke-width="2" fill="none" stroke-linejoin="miter"/>
<path d="M565.5 438.5L568.4 435.6L571.3 438.5L568.4 441.4Z" stroke="#0066ff" stroke-width="2" fill="none" stroke-linejoin="miter"/>
<path d="M576.8 438.5L579.7 435.6L582.6 438.5L579.7 441.4Z" stroke="#0066ff" stroke-width="2" fill="none" stroke-linejoin="miter"/>
<path d="M588.1 438.5L591.0 435.6L593.9 438.5L591.0 441.4Z" stroke="#0066ff" stroke-width="2" fill="none" stroke-linejoin="miter"/>
<path d="M599.3 438.5L602.2 435.6L605.1 438.5L602.2 441.4Z" stroke="#0066ff" stroke-width="2" fill="none" stroke-linejoin="miter"/>
<path d="M610.6 438.5L613.5 435.6L616.4 438.5L613.5 441.4Z" stroke="#0066ff" stroke-width="2" fill="none" stroke-linejoin="miter"/>
<path d="M621.9 438.5L624.8 435.6L627.7 438.5L624.8 441.4Z" stroke="#0066ff" stroke-width="2" fill="none" stroke-linejoin="miter"/>
<path d="M633.5 438.5L636.4 435.6L639.3 438.5L636.4 441.4Z" stroke="#0066ff" stroke-width="2" fill="none" stroke-linejoin="miter"/>
<path d="M644.7 438.5L647.6 435.6L650.5 438.5L647.6 441.4Z" stroke="#0066ff" stroke-width="2" fill="none" stroke-linejoin="miter"/>
<path d="M656.3 438.5L659.2 435.6L662.1 438.5L659.2 441.4Z" stroke="#0066ff" stroke-width="2" fill="none" stroke-linejoin="miter"/>
<path d="M668.1 226.6L671.0 223.7L673.9 226.6L671.0 229.5Z" stroke="#0066ff" stroke-width="2" fill="none" stroke-linejoin="miter"/>
<path d="M679.6 183.7L682.5 180.8L685.4 183.7L682.5 186.6Z" stroke="#0066ff" stroke-width="2" fill="none" stroke-linejoin="miter"/>
<path d="M692.5 183.7L695.4 180.8L698.3 183.7L695.4 186.6Z" stroke="#0066ff" stroke-width="2" fill="none" stroke-linejoin="miter"/>
<path d="M704.9 183.7L707.8 180.8L710.7 183.7L707.8 186.6Z" stroke="#0066ff" stroke-width="2" fill="none" stroke-linejoin="miter"/>
<path d="M718.8 183.7L721.7 180.8L724.6 183.7L721.7 186.6Z" stroke="#0066ff" stroke-width="2" fill="none" stroke-linejoin="miter"/>
<path d="M732.9 183.7L735.8 180.8L738.7 183.7L735.8 186.6Z" stroke="#0066ff" stroke-width="2" fill="none" stroke-linejoin="miter"/>
<path d="M748.3 183.7L751.2 180.8L754.1 183.7L751.2 186.6Z" stroke="#0066ff" stroke-width="2" fill="none" stroke-linejoin="miter"/>
<path d="M763.1 183.7L766.0 180.8L768.9 183.7L766.0 186.6Z" stroke="#0066ff" stroke-width="2" fill="none" stroke-linejoin="miter"/>
<path d="M777.6 183.7L780.5 180.8L783.4 183.7L780.5 186.6Z" stroke="#0066ff" stroke-width="2" fill="none" stroke-linejoin="miter"/>
<path d="M791.7 183.7L794.6 180.8L797.5 183.7L794.6 186.6Z" stroke="#0066ff" stroke-width="2" fill="none" stroke-linejoin="miter"/>
<path d="M94.8 336.3L107.1 336.3M107.1 336.3L119.2 336.3M119.2 336.3L131.2 336.3M131.2 336.3L143.2 336.3M143.2 336.3L155.2 336.3M155.2 336.3L167.1 336.3M167.1 336.3L179.0 336.3M179.0 336.3L190.8 336.3M190.8 336.3L202.6 336.3M202.6 336.3L214.4 336.3M214.4 336.3L226.1 336.3M226.1 336.3L237.8 336.3M237.8 336.3L249.4 336.3M249.4 336.3L261.0 336.3M261.0 336.3L272.6 336.3M272.6 336.3L284.1 336.3M284.1 336.3L295.6 336.3M295.6 336.3L307.0 336.3M307.0 336.3L318.3 336.3M318.3 336.3L329.7 336.3M329.7 336.3L341.0 336.3M341.0 336.3L352.4 336.3M352.4 336.3L363.8 336.3M363.8 336.3L375.1 336.3M375.1 336.3L386.5 336.3M386.5 336.3L397.8 336.3M397.8 336.3L409.2 336.3M409.2 336.3L420.6 336.3M420.6 336.3L431.9 336.3M431.9 336.3L443.3 336.3M443.3 336.3L454.6 336.3M454.6 336.3L466.0 336.3M466.0 336.3L477.4 336.3M477.4 336.3L488.8 336.3M488.8 336.3L500.2 336.3M500.2 336.3L511.6 336.3M511.6 336.3L523.0 336.3M523.0 336.3L534.4 336.3M534.4 336.3L545.7 336.3M545.7 336.3L557.0 336.3M557.0 336.3L568.4 336.3M568.4 336.3L579.7 336.3M579.7 336.3L591.0 336.3M591.0 336.3L602.2 336.3M602.2 336.3L613.5 336.3M613.5 336.3L624.8 336.3M624.8 336.3L636.4 336.3M636.4 336.3L647.6 336.3M647.6 336.3L659.2 336.3M659.2 336.3L671.0 336.3M671.0 336.3L682.5 247.5M682.5 247.5L695.4 139.9M695.4 139.9L707.8 139.9M707.8 139.9L721.7 139.9M721.7 139.9L735.8 139.9M735.8 139.9L751.2 139.9M751.2 139.9L766.0 139.9M766.0 139.9L780.5 139.9M780.5 139.9L794.6 139.9" stroke="#ff66ff" stroke-width="2" fill="none" stroke-dasharray="6.3 4.9"/>
<path d="M103.1 339.7L107.1 333.5L111.1 339.7Z" stroke="#ff66ff" stroke-width="2" fill="none" stroke-linejoin="round"/>
<path d="M115.2 339.7L119.2 333.5L123.2 339.7Z" stroke="#ff66ff" stroke-width="2" fill="none" stroke-linejoin="round"/>
<path d="M127.2 339.7L131.2 333.5L135.2 339.7Z" stroke="#ff66ff" stroke-width="2" fill="none" stroke-linejoin="round"/>
<path d="M139.2 339.7L143.2 333.5L147.2 339.7Z" stroke="#ff66ff" stroke-width="2" fill="none" stroke-linejoin="round"/>
<path d="M151.2 339.7L155.2 333.5L159.2 339.7Z" stroke="#ff66ff" stroke-width="2" fill="none" stroke-linejoin="round"/>
<path d="M163.1 339.7L167.1 333.5L171.1 339.7Z" stroke="#ff66ff" stroke-width="2" fill="none" stroke-linejoin="round"/>
<path d="M175.0 339.7L179.0 333.5L183.0 339.7Z" stroke="#ff66ff" stroke-width="2" fill="none" stroke-linejoin="round"/>
<path d="M186.8 339.7L190.8 333.5L194.8 339.7Z" stroke="#ff66ff" stroke-width="2" fill="none" stroke-linejoin="round"/>
<path d="M198.6 339.7L202.6 333.5L206.6 339.7Z" stroke="#ff66ff" stroke-width="2" fill="none" stroke-linejoin="round"/>
<path d="M210.4 339.7L214.4 333.5L218.4 339.7Z" stroke="#ff66ff" stroke-width="2" fill="none" stroke-linejoin="round"/>
<path d="M222.1 339.7L226.1 333.5L230.1 339.7Z" stroke="#ff66ff" stroke-width="2" fill="none" stroke-linejoin="round"/>
<path d="M233.8 339.7L237.8 333.5L241.8 339.7Z" stroke="#ff66ff" stroke-width="2" fill="none" stroke-linejoin="round"/>
<path d="M245.4 339.7L249.4 333.5L253.4 339.7Z" stroke="#ff66ff" stroke-width="2" fill="none" stroke-linejoin="round"/>
<path d="M257.0 339.7L261.0 333.5L265.0 339.7Z" stroke="#ff66ff" stroke-width="2" fill="none" stroke-linejoin="round"/>
<path d="M268.6 339.7L272.6 333.5L276.6 339.7Z" stroke="#ff66ff" stroke-width="2" fill="none" stroke-linejoin="round"/>
<path d="M280.1 339.7L284.1 333.5L288.1 339.7Z" stroke="#ff66ff" stroke-width="2" fill="none" stroke-linejoin="round"/>
<path d="M291.6 339.7L295.6 333.5L299.6 339.7Z" stroke="#ff66ff" stroke-width="2" fill="none" stroke-linejoin="round"/>
<path d="M303.0 339.7L307.0 333.5L311.0 339.7Z" stroke="#ff66ff" stroke-width="2" fill="none" stroke-linejoin="round"/>
<path d="M314.3 339.7L318.3 333.5L322.3 339.7Z" stroke="#ff66ff" stroke-width="2" fill="none" stroke-linejoin="round"/>
<path d="M325.7 339.7L329.7 333.5L333.7 339.7Z" stroke="#ff66ff" stroke-width="2" fill="none" stroke-linejoin="round"/>
<path d="M337.0 339.7L341.0 333.5L345.0 339.7Z" stroke="#ff66ff" stroke-width="2" fill="none" stroke-linejoin="round"/>
<path d="M348.4 339.7L352.4 333.5L356.4 339.7Z" stroke="#ff66ff" stroke-width="2" fill="none" stroke-linejoin="round"/>
<path d="M359.8 339.7L363.8 333.5L367.8 339.7Z" stroke="#ff66ff" stroke-width="2" fill="none" stroke-linejoin="round"/>
<path d="M371.1 339.7L375.1 333.5L379.1 339.7Z" stroke="#ff66ff" stroke-width="2" fill="none" stroke-linejoin="round"/>
<path d="M382.5 339.7L386.5 333.5L390.5 339.7Z" stroke="#ff66ff" stroke-width="2" fill="none" stroke-linejoin="round"/>
<path d="M393.8 339.7L397.8 333.5L401.8 339.7Z" stroke="#ff66ff" stroke-width="2" fill="none" stroke-linejoin="round"/>
<path d="M405.2 339.7L409.2 333.5L413.2 339.7Z" stroke="#ff66ff" stroke-width="2" fill="none" stroke-linejoin="round"/>
<path d="M416.6 339.7L420.6 333.5L424.6 339.7Z" stroke="#ff66ff" stroke-width="2" fill="none" stroke-linejoin="round"/>
<path d="M427.9 339.7L431.9 333.5L435.9 339.7Z" stroke="#ff66ff" stroke-width="2" fill="none" stroke-linejoin="round"/>
<path d="M439.3 339.7L443.3 333.5L447.3 339.7Z" stroke="#ff66ff" stroke-width="2" fill="none" stroke-linejoin="round"/>
<path d="M450.6 339.7L454.6 333.5L458.6 339.7Z" stroke="#ff66ff" stroke-width="2" fill="none" stroke-linejoin="round"/>
<path d="M462.0 339.7L466.0 333.5L470.0 339.7Z" stroke="#ff66ff" stroke-width="2" fill="none" stroke-linejoin="round"/>
<path d="M473.4 339.7L477.4 333.5L481.4 339.7Z" stroke="#ff66ff" stroke-width="2" fill="none" stroke-linejoin="round"/>
<path d="M484.8 339.7L488.8 333.5L492.8 339.7Z" stroke="#ff66ff" stroke-width="2" fill="none" stroke-linejoin="round"/>
<path d="M496.2 339.7L500.2 333.5L504.2 339.7Z" stroke="#ff66ff" stroke-width="2" fill="none" stroke-linejoin="round"/>
<path d="M507.6 339.7L511.6 333.5L515.6 339.7Z" stroke="#ff66ff" stroke-width="2" fill="none" stroke-linejoin="round"/>
<path d="M519.0 339.7L523.0 333.5L527.0 339.7Z" stroke="#ff66ff" stroke-width="2" fill="none" stroke-linejoin="round"/>
<path d="M530.4 339.7L534.4 333.5L538.4 339.7Z" stroke="#ff66ff" stroke-width="2" fill="none" stroke-linejoin="round"/>
<path d="M541.7 339.7L545.7 333.5L549.7 339.7Z" stroke="#ff66ff" stroke-width="2" fill="none" stroke-linejoin="round"/>
<path d="M553.0 339.7L557.0 333.5L561.0 339.7Z" stroke="#ff66ff" stroke-width="2" fill="none" stroke-linejoin="round"/>
<path d="M564.4 339.7L568.4 333.5L572.4 339.7Z" stroke="#ff66ff" stroke-width="2" fill="none" stroke-linejoin="round"/>
<path d="M575.7 339.7L579.7 333.5L583.7 339.7Z" stroke="#ff66ff" stroke-width="2" fill="none" stroke-linejoin="round"/>
<path d="M587.0 339.7L591.0 333.5L595.0 339.7Z" stroke="#ff66ff" stroke-width="2" fill="none" stroke-linejoin="round"/>
<path d="M598.2 339.7L602.2 333.5L606.2 339.7Z" stroke="#ff66ff" stroke-width="2" fill="none" stroke-linejoin="round"/>
<path d="M609.5 339.7L613.5 333.5L617.5 339.7Z" stroke="#ff66ff" stroke-width="2" fill="none" stroke-linejoin="round"/>
<path d="M620.8 339.7L624.8 333.5L628.8 339.7Z" stroke="#ff66ff" stroke-width="2" fill="none" stroke-linejoin="round"/>
<path d="M632.4 339.7L636.4 333.5L640.4 339.7Z" stroke="#ff66ff" stroke-width="2" fill="none" stroke-linejoin="round"/>
<path d="M643.6 339.7L647.6 333.5L651.6 339.7Z" stroke="#ff66ff" stroke-width="2" fill="none" stroke-linejoin="round"/>
<path d="M655.2 339.7L659.2 333.5L663.2 339.7Z" stroke="#ff66ff" stroke-width="2" fill="none" stroke-linejoin="round"/>
<path d="M667.0 339.7L671.0 333.5L675.0 339.7Z" stroke="#ff66ff" stroke-width="2" fill="none" stroke-linejoin="round"/>
<path d="M678.5 250.9L682.5 244.7L686.5 250.9Z" stroke="#ff66ff" stroke-width="2" fill="none" stroke-linejoin="round"/>
<path d="M691.4 143.3L695.4 137.1L699.4 143.3Z" stroke="#ff66ff" stroke-width="2" fill="none" stroke-linejoin="round"/>
<path d="M703.8 143.3L707.8 137.1L711.8 143.3Z" stroke="#ff66ff" stroke-width="2" fill="none" stroke-linejoin="round"/>
<path d="M717.7 143.3L721.7 137.1L725.7 143.3Z" stroke="#ff66ff" stroke-width="2" fill="none" stroke-linejoin="round"/>
<path d="M731.8 143.3L735.8 137.1L739.8 143.3Z" stroke="#ff66ff" stroke-width="2" fill="none" stroke-linejoin="round"/>
<path d="M747.2 143.3L751.2 137.1L755.2 143.3Z" stroke="#ff66ff" stroke-width="2" fill="none" stroke-linejoin="round"/>
<path d="M762.0 143.3L766.0 137.1L770.0 143.3Z" stroke="#ff66ff" stroke-width="2" fill="none" stroke-linejoin="round"/>
<path d="M776.5 143.3L780.5 137.1L784.5 143.3Z" stroke="#ff66ff" stroke-width="2" fill="none" stroke-linejoin="round"/>
<path d="M790.6 143.3L794.6 137.1L798.6 143.3Z" stroke="#ff66ff" stroke-width="2" fill="none" stroke-linejoin="round"/>
<path d="M94.8 347.8L107.1 347.8M107.1 347.8L119.2 347.8M119.2 347.8L131.2 347.8M131.2 347.8L143.2 347.8M143.2 347.8L155.2 347.8M155.2 347.8L167.1 347.8M167.1 347.8L179.0 347.8M179.0 347.8L190.8 347.8M190.8 347.8L202.6 347.8M202.6 347.8L214.4 347.8M214.4 347.8L226.1 347.8M226.1 347.8L237.8 347.8M237.8 347.8L249.4 347.8M249.4 347.8L261.0 347.8M261.0 347.8L272.6 347.8M272.6 347.8L284.1 347.8M284.1 347.8L295.6 347.8M295.6 347.8L307.0 347.8M307.0 347.8L318.3 347.8M318.3 347.8L329.7 347.8M329.7 347.8L341.0 347.8M341.0 347.8L352.4 347.8M352.4 347.8L363.8 347.8M363.8 347.8L375.1 347.8M375.1 347.8L386.5 347.8M386.5 347.8L397.8 347.8M397.8 347.8L409.2 347.8M409.2 347.8L420.6 347.8M420.6 347.8L431.9 347.8M431.9 347.8L443.3 347.8M443.3 347.8L454.6 347.8M454.6 347.8L466.0 347.8M466.0 347.8L477.4 347.8M477.4 347.8L488.8 347.8M488.8 347.8L500.2 347.8M500.2 347.8L511.6 347.8M511.6 347.8L523.0 347.8M523.0 347.8L534.4 347.8M534.4 347.8L545.7 347.8M545.7 347.8L557.0 347.8M557.0 347.8L568.4 347.8M568.4 347.8L579.7 347.8M579.7 347.8L591.0 347.8M591.0 347.8L602.2 347.8M602.2 347.8L613.5 331.7M613.5 331.7L624.8 294.6M624.8 294.6L636.4 259.3M636.4 259.3L647.6 226.8M647.6 226.8L659.2 195.6M659.2 195.6L671.0 167.2M671.0 167.2L682.5 141.7M682.5 141.7L695.4 120.6M695.4 120.6L707.8 100.7M707.8 100.7L721.7 85.2M721.7 85.2L735.8 74.4M735.8 74.4L751.2 66.2M751.2 66.2L766.0 60.6M766.0 60.6L780.5 56.4M780.5 56.4L794.6 56.0" stroke="#ff9900" stroke-width="2" fill="none" stroke-dasharray="6.3 4.9"/>
<rect x="104.1" y="344.8" width="6.0" height="6.0" stroke="#ff9900" stroke-width="2" fill="none"/>
<rect x="116.2" y="344.8" width="6.0" height="6.0" stroke="#ff9900" stroke-width="2" fill="none"/>
<rect x="128.2" y="344.8" width="6.0" height="6.0" stroke="#ff9900" stroke-width="2" fill="none"/>
<rect x="140.2" y="344.8" width="6.0" height="6.0" stroke="#ff9900" stroke-width="2" fill="none"/>
<rect x="152.2" y="344.8" width="6.0" height="6.0" stroke="#ff9900" stroke-width="2" fill="none"/>
<rect x="164.1" y="344.8" width="6.0" height="6.0" stroke="#ff9900" stroke-width="2" fill="none"/>
<rect x="176.0" y="344.8" width="6.0" height="6.0" stroke="#ff9900" stroke-width="2" fill="none"/>
<rect x="187.8" y="344.8" width="6.0" height="6.0" stroke="#ff9900" stroke-width="2" fill="none"/>
<rect x="199.6" y="344.8" width="6.0" height="6.0" stroke="#ff9900" stroke-width="2" fill="none"/>
<rect x="211.4" y="344.8" width="6.0" height="6.0" stroke="#ff9900" stroke-width="2" fill="none"/>
<rect x="223.1" y="344.8" width="6.0" height="6.0" stroke="#ff9900" stroke-width="2" fill="none"/>
<rect x="234.8" y="344.8" width="6.0" height="6.0" stroke="#ff9900" stroke-width="2" fill="none"/>
<rect x="246.4" y="344.8" width="6.0" height="6.0" stroke="#ff9900" stroke-width="2" fill="none"/>
<rect x="258.0" y="344.8" width="6.0" height="6.0" stroke="#ff9900" stroke-width="2" fill="none"/>
<rect x="269.6" y="344.8" width="6.0" height="6.0" stroke="#ff9900" stroke-width="2" fill="none"/>
<rect x="281.1" y="344.8" width="6.0" height="6.0" stroke="#ff9900" stroke-width="2" fill="none"/>
<rect x="292.6" y="344.8" width="6.0" height="6.0" stroke="#ff9900" stroke-width="2" fill="none"/>
<rect x="304.0" y="344.8" width="6.0" height="6.0" stroke="#ff9900" stroke-width="2" fill="none"/>
<rect x="315.3" y="344.8" width="6.0" height="6.0" stroke="#ff9900" stroke-width="2" fill="none"/>
<rect x="326.7" y="344.8" width="6.0" height="6.0" stroke="#ff9900" stroke-width="2" fill="none"/>
<rect x="338.0" y="344.8" width="6.0" height="6.0" stroke="#ff9900" stroke-width="2" fill="none"/>
<rect x="349.4" y="344.8" width="6.0" height="6.0" stroke="#ff9900" stroke-width="2" fill="none"/>
<rect x="360.8" y="344.8" width="6.0" height="6.0" stroke="#ff9900" stroke-width="2" fill="none"/>
<rect x="372.1" y="344.8" width="6.0" height="6.0" stroke="#ff9900" stroke-width="2" fill="none"/>
<rect x="383.5" y="344.8" width="6.0" height="6.0" stroke="#ff9900" stroke-width="2" fill="none"/>
<rect x="394.8" y="344.8" width="6.0" height="6.0" stroke="#ff9900" stroke-width="2" fill="none"/>
<rect x="406.2" y="344.8" width="6.0" height="6.0" stroke="#ff9900" stroke-width="2" fill="none"/>
<rect x="417.6" y="344.8" width="6.0" height="6.0" stroke="#ff9900" stroke-width="2" fill="none"/>
<rect x="428.9" y="344.8" width="6.0" height="6.0" stroke="#ff9900" stroke-width="2" fill="none"/>
<rect x="440.3" y="344.8" width="6.0" height="6.0" stroke="#ff9900" stroke-width="2" fill="none"/>
<rect x="451.6" y="344.8" width="6.0" height="6.0" stroke="#ff9900" stroke-width="2" fill="none"/>
<rect x="463.0" y="344.8" width="6.0" height="6.0" stroke="#ff9900" stroke-width="2" fill="none"/>
<rect x="474.4" y="344.8" width="6.0" height="6.0" stroke="#ff9900" stroke-width="2" fill="none"/>
<rect x="485.8" y="344.8" width="6.0" height="6.0" stroke="#ff9900" stroke-width="2" fill="none"/>
<rect x="497.2" y="344.8" width="6.0" height="6.0" stroke="#ff9900" stroke-width="2" fill="none"/>
<rect x="508.6" y="344.8" width="6.0" height="6.0" stroke="#ff9900" stroke-width="2" fill="none"/>
<rect x="520.0" y="344.8" width="6.0" height="6.0" stroke="#ff9900" stroke-width="2" fill="none"/>
<rect x="531.4" y="344.8" width="6.0" height="6.0" stroke="#ff9900" stroke-width="2" fill="none"/>
<rect x="542.7" y="344.8" width="6.0" height="6.0" stroke="#ff9900" stroke-width="2" fill="none"/>
<rect x="554.0" y="344.8" width="6.0" height="6.0" stroke="#ff9900" stroke-width="2" fill="none"/>
<rect x="565.4" y="344.8" width="6.0" height="6.0" stroke="#ff9900" stroke-width="2" fill="none"/>
<rect x="576.7" y="344.8" width="6.0" height="6.0" stroke="#ff9900" stroke-width="2" fill="none"/>
<rect x="588.0" y="344.8" width="6.0" height="6.0" stroke="#ff9900" stroke-width="2" fill="none"/>
<rect x="599.2" y="344.8" width="6.0" height="6.0" stroke="#ff9900" stroke-width="2" fill="none"/>
<rect x="610.5" y="328.7" width="6.0" height="6.0" stroke="#ff9900" stroke-width="2" fill="none"/>
<rect x="621.8" y="291.6" width="6.0" height="6.0" stroke="#ff9900" stroke-width="2" fill="none"/>
<rect x="633.4" y="256.3" width="6.0" height="6.0" stroke="#ff9900" stroke-width="2" fill="none"/>
<rect x="644.6" y="223.8" width="6.0" height="6.0" stroke="#ff9900" stroke-width="2" fill="none"/>
<rect x="656.2" y="192.6" width="6.0" height="6.0" stroke="#ff9900" stroke-width="2" fill="none"/>
<rect x="668.0" y="164.2" width="6.0" height="6.0" stroke="#ff9900" stroke-width="2" fill="none"/>
<rect x="679.5" y="138.7" width="6.0" height="6.0" stroke="#ff9900" stroke-width="2" fill="none"/>
<rect x="692.4" y="117.6" width="6.0" height="6.0" stroke="#ff9900" stroke-width="2" fill="none"/>
<rect x="704.8" y="97.7" width="6.0" height="6.0" stroke="#ff9900" stroke-width="2" fill="none"/>
<rect x="718.7" y="82.2" width="6.0" height="6.0" stroke="#ff9900" stroke-width="2" fill="none"/>
<rect x="732.8" y="71.4" width="6.0" height="6.0" stroke="#ff9900" stroke-width="2" fill="none"/>
<rect x="748.2" y="63.2" width="6.0" height="6.0" stroke="#ff9900" stroke-width="2" fill="none"/>
<rect x="763.0" y="57.6" width="6.0" height="6.0" stroke="#ff9900" stroke-width="2" fill="none"/>
<rect x="777.5" y="53.4" width="6.0" height="6.0" stroke="#ff9900" stroke-width="2" fill="none"/>
<rect x="791.6" y="53.0" width="6.0" height="6.0" stroke="#ff9900" stroke-width="2" fill="none"/>
</g>
<text x="103.7" y="47.1" font-size="17.6" text-anchor="end">2</text><path d="M80.0 41.8h10.7" stroke="#000" stroke-width="1.7"/>
<text x="103.7" y="105.1" font-size="17.6" text-anchor="end">3</text><path d="M80.0 99.8h10.7" stroke="#000" stroke-width="1.7"/>
<text x="103.7" y="169.2" font-size="17.6" text-anchor="end">4</text><path d="M80.0 163.9h10.7" stroke="#000" stroke-width="1.7"/>
<text x="103.7" y="233.3" font-size="17.6" text-anchor="end">5</text><path d="M80.0 228.0h10.7" stroke="#000" stroke-width="1.7"/>
<text x="103.7" y="297.3" font-size="17.6" text-anchor="end">6</text><path d="M80.0 292.0h10.7" stroke="#000" stroke-width="1.7"/>
<text x="103.7" y="361.4" font-size="17.6" text-anchor="end">7</text><path d="M80.0 356.1h10.7" stroke="#000" stroke-width="1.7"/>
<text x="103.7" y="425.5" font-size="17.6" text-anchor="end">8</text><path d="M80.0 420.2h10.7" stroke="#000" stroke-width="1.7"/>
<text x="103.7" y="483.4" font-size="17.6" text-anchor="end">9</text><path d="M80.0 478.1h10.7" stroke="#000" stroke-width="1.7"/>
<text x="123.1" y="509.5" font-size="17.6" text-anchor="end">5</text><path d="M99.4 504.2h10.7" stroke="#000" stroke-width="1.7"/>
<text x="248.0" y="509.5" font-size="17.6" text-anchor="end">4</text><path d="M224.3 504.2h10.7" stroke="#000" stroke-width="1.7"/>
<text x="372.8" y="509.5" font-size="17.6" text-anchor="end">3</text><path d="M349.1 504.2h10.7" stroke="#000" stroke-width="1.7"/>
<text x="497.7" y="509.5" font-size="17.6" text-anchor="end">2</text><path d="M474.0 504.2h10.7" stroke="#000" stroke-width="1.7"/>
<text x="622.5" y="509.5" font-size="17.6" text-anchor="end">1</text><path d="M598.8 504.2h10.7" stroke="#000" stroke-width="1.7"/>
<text x="735.1" y="509.5" font-size="17.6" text-anchor="middle">0</text>
<g transform="translate(61.7 338) rotate(-90)"><text x="-0.8" y="0.0" font-size="17.6" textLength="25.2" lengthAdjust="spacingAndGlyphs">log</text><path d="M40.8 -14.9Q32.4 -5.1 40.8 4.7" stroke="#000" stroke-width="1.7" fill="none"/><text x="42.4" y="0.0" font-size="17.6" textLength="12.8" lengthAdjust="spacingAndGlyphs">N</text><text x="55.7" y="5.3" font-size="11.5" textLength="44.6" lengthAdjust="spacingAndGlyphs" font-weight="bold">element</text><path d="M101.6 5.1L115.0 -14.4" stroke="#000" stroke-width="1.7" fill="none"/><text x="115.8" y="0.0" font-size="17.6" textLength="13.2" lengthAdjust="spacingAndGlyphs">N</text><text x="130.0" y="5.3" font-size="11.5" textLength="20.4" lengthAdjust="spacingAndGlyphs" font-weight="bold">total</text><path d="M152.2 -14.9Q161.4 -5.1 152.2 4.7" stroke="#000" stroke-width="1.7" fill="none"/></g>
<text x="431.2" y="532.5" font-size="17.6" textLength="25.6" lengthAdjust="spacingAndGlyphs">log</text>
<text x="458.0" y="532.5" font-size="17.6" textLength="10.0" lengthAdjust="spacingAndGlyphs" font-style="italic" style="stroke-width:0.7px">τ</text>
<text x="469.5" y="536.4" font-size="10.5" textLength="7.0" lengthAdjust="spacingAndGlyphs" font-weight="bold">R</text>
<path d="M125.7 83.6H138.9M132.3 77.0V90.2" stroke="#ff0000" stroke-width="2" fill="none"/>
<text x="147.7" y="89.2" font-size="17.6" fill="#ff0000" style="stroke:#ff0000;stroke-width:0.6px" textLength="25.4" lengthAdjust="spacingAndGlyphs">Mg</text>
<path d="M125.9 107.0H138.7M132.3 100.6V113.4M127.3 102.0L137.3 112.0M127.3 112.0L137.3 102.0" stroke="#33ff00" stroke-width="2" fill="none"/>
<text x="147.7" y="112.5" font-size="17.6" fill="#33ff00" style="stroke:#33ff00;stroke-width:0.6px" textLength="15.6" lengthAdjust="spacingAndGlyphs">Si</text>
<path d="M126.4 130.2L132.3 124.3L138.2 130.2L132.3 136.1Z" stroke="#0066ff" stroke-width="2" fill="none" stroke-linejoin="miter"/>
<text x="147.7" y="135.9" font-size="17.6" fill="#0066ff" style="stroke:#0066ff;stroke-width:0.6px" textLength="23.9" lengthAdjust="spacingAndGlyphs">Ca</text>
<path d="M126.1 159.7L132.3 148.2L138.6 159.7Z" stroke="#ff66ff" stroke-width="2" fill="none" stroke-linejoin="round"/>
<text x="147.7" y="159.6" font-size="17.6" fill="#ff66ff" style="stroke:#ff66ff;stroke-width:0.6px" textLength="21.0" lengthAdjust="spacingAndGlyphs">Cr</text>
<rect x="126.1" y="171.3" width="12.4" height="12.4" stroke="#ff9900" stroke-width="2" fill="none"/>
<text x="147.7" y="183.0" font-size="17.6" fill="#ff9900" style="stroke:#ff9900;stroke-width:0.6px" textLength="21.7" lengthAdjust="spacingAndGlyphs">Fe</text>
<path d="M194.8 83.6H372" stroke="#000" stroke-width="2"/>
<path d="M194.8 107H370" stroke="#000" stroke-width="2" stroke-dasharray="6.3 4.9"/>
<text transform="translate(387.7 90.1) scale(1.14 1)" font-size="17.6" textLength="21.4" lengthAdjust="spacing">He</text>
<path d="M414.4 84.1H427.8" stroke="#000" stroke-width="1.7"/>
<text transform="translate(431.4 90.1) scale(1.14 1)" font-size="17.6" textLength="149.9" lengthAdjust="spacing">norm, t8100g3.9</text>
<text transform="translate(387.7 112.1) scale(1.14 1)" font-size="17.6" textLength="21.4" lengthAdjust="spacing">He</text>
<path d="M414.4 106.1H427.8" stroke="#000" stroke-width="1.7"/>
<text transform="translate(431.4 112.1) scale(1.14 1)" font-size="17.6" textLength="147.3" lengthAdjust="spacing">weak, t8050g4.0</text>
</svg>
</body></html>
